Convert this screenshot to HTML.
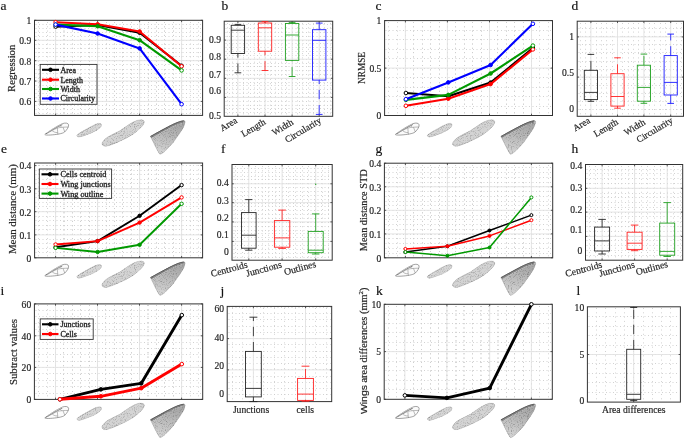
<!DOCTYPE html>
<html><head><meta charset="utf-8"><style>
html,body{margin:0;padding:0;background:#fff;}
svg{display:block;will-change:transform;}
text{font-family:"Liberation Serif", serif;stroke:#262626;stroke-width:0.18px;}
</style></head><body>
<svg width="685" height="439" viewBox="0 0 685 439">
<rect width="685" height="439" fill="#fff"/>

<defs>
<filter id="tex" x="-10%" y="-10%" width="120%" height="120%" color-interpolation-filters="sRGB">
<feTurbulence type="fractalNoise" baseFrequency="0.9" numOctaves="2" seed="4" result="t"/>
<feColorMatrix in="t" type="matrix" values="0.7 0 0 0 0.65  0.7 0 0 0 0.65  0.7 0 0 0 0.65  0 0 0 0 1" result="g"/>
<feBlend in="SourceGraphic" in2="g" mode="multiply" result="m"/>
<feComposite in="m" in2="SourceGraphic" operator="in"/>
</filter>
<g id="w1">
<path d="M44.8,134.5 C49,131.2 56,126.6 62.5,123.6 C65.5,122.6 68.2,123 68.6,124.8 C68.9,126.8 67,129.8 64.6,132 C62.5,133.8 56,134.6 50.5,135 C47.5,135.2 45.2,135.1 44.8,134.5 Z" fill="#fbfbfb" stroke="#5a5a5a" stroke-width="0.55"/>
<path d="M46.5,133.6 C50,131.5 53.5,129.4 57.3,128 C60.5,127.2 64.5,127.1 68.4,127 M57.3,128 L57.9,134.4 M63,127.3 L64.8,131.9 M52,130.5 C53.5,131.8 55,132.6 57.6,132.6 M60,125.5 L61.5,127.2" fill="none" stroke="#6a6a6a" stroke-width="0.45"/>
<path d="M45.3,134.3 C50,131.4 56,127.8 62.5,124.4" fill="none" stroke="#9a9a9a" stroke-width="1.3" filter="url(#tex)"/>
</g>
<g id="w2">
<path d="M76.7,135.2 C78,133.8 81,132 84,130.3 C88,128 92,125.8 95,124.4 C97.5,123.3 100,122.9 101.2,123.8 C102.2,124.8 101.5,126.5 100,127.9 C98,129.8 95,131.4 91.5,132.9 C87,134.8 83,136.2 80,137 C78.3,137.4 76.8,136.8 76.7,135.2 Z" fill="#d6d6d6" stroke="#8a8a8a" stroke-width="0.5" filter="url(#tex)"/>
<path d="M77.5,135 C82,132 88,128.6 95,125" fill="none" stroke="#999" stroke-width="0.9" filter="url(#tex)"/>
</g>
<g id="w3">
<path d="M102,142.9 C103.5,140 106,137.8 109,136.2 C113,134 117,132.2 120,130.6 C125,127.2 129,124 133.5,121.8 C136.5,120.3 139,119.6 141.5,119.7 C143.8,119.9 144.8,121.2 144.3,122.8 C143.6,124.8 142.5,126.2 141,127.6 C137.5,131 134.5,133.4 131.5,135.2 C127,138 123,139.8 119.5,141.4 C115,143.4 111,145.2 107.5,146.1 C105,146.6 103.2,146.2 102.3,145 C101.8,144.2 101.8,143.5 102,142.9 Z" fill="#d4d4d4" stroke="#8a8a8a" stroke-width="0.55" filter="url(#tex)"/>
</g>
<linearGradient id="g4" gradientUnits="userSpaceOnUse" x1="170" y1="125" x2="163" y2="152"><stop offset="0" stop-color="#a9a9a9"/><stop offset="1" stop-color="#d2d2d2"/></linearGradient>
<g id="w4">
<path d="M150.3,136.3 C153.5,134.6 156.8,132.9 160,131.2 C163.4,129.3 166.8,127.4 170.2,125.6 C174,123.6 180,120.8 183.6,120.5 C185,120.4 185.5,121.2 185.1,122.8 C184.6,125.3 183.6,127.4 182.5,129.2 C181.2,131.3 179.8,133.3 178.4,135.3 C176.7,137.7 175,140.1 173.3,142.5 C171.3,144.8 169.3,147 167.2,149.1 C165,151.4 163,153.2 161.5,153.9 C160.6,154.4 159.9,154.4 159.4,153.9 C158.5,152.6 157.7,151.2 156.9,149.7 C155.9,147.6 154.8,145.6 153.8,143.5 C153,141.8 152.2,140.1 151.3,138.4 C150.9,137.6 150.5,137 150.3,136.3 Z" fill="url(#g4)" stroke="#7a7a7a" stroke-width="0.5" filter="url(#tex)"/>
<path d="M150.8,137.2 C157,133.6 164,129.6 170.5,126.4 C175,124.1 180,121.8 183.8,121.5" fill="none" stroke="#8a8a8a" stroke-width="2.4" filter="url(#tex)"/>
<path d="M150.4,136.5 C157,132.9 164,128.9 170.5,125.7 C175,123.4 180,121.1 183.8,120.8" fill="none" stroke="#5a5a5a" stroke-width="0.9"/>
</g>
<g id="wings"><use href="#w1"/><use href="#w2"/><use href="#w3"/><use href="#w4"/></g>
</defs>

<line x1="35.5" y1="24.5" x2="201.6" y2="24.5" stroke="#cdcdcd" stroke-width="0.9" stroke-dasharray="1 2.5"/>
<line x1="35.5" y1="28.5" x2="201.6" y2="28.5" stroke="#cdcdcd" stroke-width="0.9" stroke-dasharray="1 2.5"/>
<line x1="35.5" y1="32.5" x2="201.6" y2="32.5" stroke="#cdcdcd" stroke-width="0.9" stroke-dasharray="1 2.5"/>
<line x1="35.5" y1="36.5" x2="201.6" y2="36.5" stroke="#cdcdcd" stroke-width="0.9" stroke-dasharray="1 2.5"/>
<line x1="35.5" y1="40.5" x2="201.6" y2="40.5" stroke="#cdcdcd" stroke-width="0.9" stroke-dasharray="1 2.5"/>
<line x1="35.5" y1="44.5" x2="201.6" y2="44.5" stroke="#cdcdcd" stroke-width="0.9" stroke-dasharray="1 2.5"/>
<line x1="35.5" y1="48.5" x2="201.6" y2="48.5" stroke="#cdcdcd" stroke-width="0.9" stroke-dasharray="1 2.5"/>
<line x1="35.5" y1="52.5" x2="201.6" y2="52.5" stroke="#cdcdcd" stroke-width="0.9" stroke-dasharray="1 2.5"/>
<line x1="35.5" y1="56.5" x2="201.6" y2="56.5" stroke="#cdcdcd" stroke-width="0.9" stroke-dasharray="1 2.5"/>
<line x1="35.5" y1="60.5" x2="201.6" y2="60.5" stroke="#cdcdcd" stroke-width="0.9" stroke-dasharray="1 2.5"/>
<line x1="35.5" y1="64.5" x2="201.6" y2="64.5" stroke="#cdcdcd" stroke-width="0.9" stroke-dasharray="1 2.5"/>
<line x1="35.5" y1="69.5" x2="201.6" y2="69.5" stroke="#cdcdcd" stroke-width="0.9" stroke-dasharray="1 2.5"/>
<line x1="35.5" y1="73.5" x2="201.6" y2="73.5" stroke="#cdcdcd" stroke-width="0.9" stroke-dasharray="1 2.5"/>
<line x1="35.5" y1="77.5" x2="201.6" y2="77.5" stroke="#cdcdcd" stroke-width="0.9" stroke-dasharray="1 2.5"/>
<line x1="35.5" y1="81.5" x2="201.6" y2="81.5" stroke="#cdcdcd" stroke-width="0.9" stroke-dasharray="1 2.5"/>
<line x1="35.5" y1="85.5" x2="201.6" y2="85.5" stroke="#cdcdcd" stroke-width="0.9" stroke-dasharray="1 2.5"/>
<line x1="35.5" y1="89.5" x2="201.6" y2="89.5" stroke="#cdcdcd" stroke-width="0.9" stroke-dasharray="1 2.5"/>
<line x1="35.5" y1="93.5" x2="201.6" y2="93.5" stroke="#cdcdcd" stroke-width="0.9" stroke-dasharray="1 2.5"/>
<line x1="35.5" y1="97.5" x2="201.6" y2="97.5" stroke="#cdcdcd" stroke-width="0.9" stroke-dasharray="1 2.5"/>
<line x1="35.5" y1="101.5" x2="201.6" y2="101.5" stroke="#cdcdcd" stroke-width="0.9" stroke-dasharray="1 2.5"/>
<line x1="35.5" y1="105.5" x2="201.6" y2="105.5" stroke="#cdcdcd" stroke-width="0.9" stroke-dasharray="1 2.5"/>
<line x1="35.5" y1="109.5" x2="201.6" y2="109.5" stroke="#cdcdcd" stroke-width="0.9" stroke-dasharray="1 2.5"/>
<line x1="35.5" y1="113.5" x2="201.6" y2="113.5" stroke="#cdcdcd" stroke-width="0.9" stroke-dasharray="1 2.5"/>
<line x1="38.5" y1="22" x2="38.5" y2="114.4" stroke="#cdcdcd" stroke-width="0.9" stroke-dasharray="1 3.3"/>
<line x1="47.5" y1="22" x2="47.5" y2="114.4" stroke="#cdcdcd" stroke-width="0.9" stroke-dasharray="1 3.3"/>
<line x1="55.5" y1="22" x2="55.5" y2="114.4" stroke="#cdcdcd" stroke-width="0.9" stroke-dasharray="1 3.3"/>
<line x1="64.5" y1="22" x2="64.5" y2="114.4" stroke="#cdcdcd" stroke-width="0.9" stroke-dasharray="1 3.3"/>
<line x1="72.5" y1="22" x2="72.5" y2="114.4" stroke="#cdcdcd" stroke-width="0.9" stroke-dasharray="1 3.3"/>
<line x1="80.5" y1="22" x2="80.5" y2="114.4" stroke="#cdcdcd" stroke-width="0.9" stroke-dasharray="1 3.3"/>
<line x1="89.5" y1="22" x2="89.5" y2="114.4" stroke="#cdcdcd" stroke-width="0.9" stroke-dasharray="1 3.3"/>
<line x1="97.5" y1="22" x2="97.5" y2="114.4" stroke="#cdcdcd" stroke-width="0.9" stroke-dasharray="1 3.3"/>
<line x1="55.5" y1="22" x2="55.5" y2="114.4" stroke="#cdcdcd" stroke-width="0.9" stroke-dasharray="1 3.3"/>
<line x1="63.5" y1="22" x2="63.5" y2="114.4" stroke="#cdcdcd" stroke-width="0.9" stroke-dasharray="1 3.3"/>
<line x1="72.5" y1="22" x2="72.5" y2="114.4" stroke="#cdcdcd" stroke-width="0.9" stroke-dasharray="1 3.3"/>
<line x1="80.5" y1="22" x2="80.5" y2="114.4" stroke="#cdcdcd" stroke-width="0.9" stroke-dasharray="1 3.3"/>
<line x1="89.5" y1="22" x2="89.5" y2="114.4" stroke="#cdcdcd" stroke-width="0.9" stroke-dasharray="1 3.3"/>
<line x1="97.5" y1="22" x2="97.5" y2="114.4" stroke="#cdcdcd" stroke-width="0.9" stroke-dasharray="1 3.3"/>
<line x1="106.5" y1="22" x2="106.5" y2="114.4" stroke="#cdcdcd" stroke-width="0.9" stroke-dasharray="1 3.3"/>
<line x1="114.5" y1="22" x2="114.5" y2="114.4" stroke="#cdcdcd" stroke-width="0.9" stroke-dasharray="1 3.3"/>
<line x1="122.5" y1="22" x2="122.5" y2="114.4" stroke="#cdcdcd" stroke-width="0.9" stroke-dasharray="1 3.3"/>
<line x1="131.5" y1="22" x2="131.5" y2="114.4" stroke="#cdcdcd" stroke-width="0.9" stroke-dasharray="1 3.3"/>
<line x1="139.5" y1="22" x2="139.5" y2="114.4" stroke="#cdcdcd" stroke-width="0.9" stroke-dasharray="1 3.3"/>
<line x1="97.5" y1="22" x2="97.5" y2="114.4" stroke="#cdcdcd" stroke-width="0.9" stroke-dasharray="1 3.3"/>
<line x1="106.5" y1="22" x2="106.5" y2="114.4" stroke="#cdcdcd" stroke-width="0.9" stroke-dasharray="1 3.3"/>
<line x1="114.5" y1="22" x2="114.5" y2="114.4" stroke="#cdcdcd" stroke-width="0.9" stroke-dasharray="1 3.3"/>
<line x1="122.5" y1="22" x2="122.5" y2="114.4" stroke="#cdcdcd" stroke-width="0.9" stroke-dasharray="1 3.3"/>
<line x1="131.5" y1="22" x2="131.5" y2="114.4" stroke="#cdcdcd" stroke-width="0.9" stroke-dasharray="1 3.3"/>
<line x1="139.5" y1="22" x2="139.5" y2="114.4" stroke="#cdcdcd" stroke-width="0.9" stroke-dasharray="1 3.3"/>
<line x1="148.5" y1="22" x2="148.5" y2="114.4" stroke="#cdcdcd" stroke-width="0.9" stroke-dasharray="1 3.3"/>
<line x1="156.5" y1="22" x2="156.5" y2="114.4" stroke="#cdcdcd" stroke-width="0.9" stroke-dasharray="1 3.3"/>
<line x1="164.5" y1="22" x2="164.5" y2="114.4" stroke="#cdcdcd" stroke-width="0.9" stroke-dasharray="1 3.3"/>
<line x1="173.5" y1="22" x2="173.5" y2="114.4" stroke="#cdcdcd" stroke-width="0.9" stroke-dasharray="1 3.3"/>
<line x1="181.5" y1="22" x2="181.5" y2="114.4" stroke="#cdcdcd" stroke-width="0.9" stroke-dasharray="1 3.3"/>
<line x1="139.5" y1="22" x2="139.5" y2="114.4" stroke="#cdcdcd" stroke-width="0.9" stroke-dasharray="1 3.3"/>
<line x1="148.5" y1="22" x2="148.5" y2="114.4" stroke="#cdcdcd" stroke-width="0.9" stroke-dasharray="1 3.3"/>
<line x1="156.5" y1="22" x2="156.5" y2="114.4" stroke="#cdcdcd" stroke-width="0.9" stroke-dasharray="1 3.3"/>
<line x1="164.5" y1="22" x2="164.5" y2="114.4" stroke="#cdcdcd" stroke-width="0.9" stroke-dasharray="1 3.3"/>
<line x1="173.5" y1="22" x2="173.5" y2="114.4" stroke="#cdcdcd" stroke-width="0.9" stroke-dasharray="1 3.3"/>
<line x1="181.5" y1="22" x2="181.5" y2="114.4" stroke="#cdcdcd" stroke-width="0.9" stroke-dasharray="1 3.3"/>
<line x1="190.5" y1="22" x2="190.5" y2="114.4" stroke="#cdcdcd" stroke-width="0.9" stroke-dasharray="1 3.3"/>
<line x1="198.5" y1="22" x2="198.5" y2="114.4" stroke="#cdcdcd" stroke-width="0.9" stroke-dasharray="1 3.3"/>
<line x1="34.5" y1="40.3" x2="202.6" y2="40.3" stroke="#e2e2e2" stroke-width="0.9" />
<line x1="34.5" y1="60.7" x2="202.6" y2="60.7" stroke="#e2e2e2" stroke-width="0.9" />
<line x1="34.5" y1="81" x2="202.6" y2="81" stroke="#e2e2e2" stroke-width="0.9" />
<line x1="34.5" y1="101.4" x2="202.6" y2="101.4" stroke="#e2e2e2" stroke-width="0.9" />
<line x1="55.6" y1="20.3" x2="55.6" y2="115.4" stroke="#e2e2e2" stroke-width="0.9" />
<line x1="97.6" y1="20.3" x2="97.6" y2="115.4" stroke="#e2e2e2" stroke-width="0.9" />
<line x1="139.6" y1="20.3" x2="139.6" y2="115.4" stroke="#e2e2e2" stroke-width="0.9" />
<line x1="181.6" y1="20.3" x2="181.6" y2="115.4" stroke="#e2e2e2" stroke-width="0.9" />
<line x1="34.5" y1="20.3" x2="36.3" y2="20.3" stroke="#333333" stroke-width="0.8" />
<line x1="202.6" y1="20.3" x2="200.8" y2="20.3" stroke="#333333" stroke-width="0.8" />
<line x1="34.5" y1="40.3" x2="36.3" y2="40.3" stroke="#333333" stroke-width="0.8" />
<line x1="202.6" y1="40.3" x2="200.8" y2="40.3" stroke="#333333" stroke-width="0.8" />
<line x1="34.5" y1="60.7" x2="36.3" y2="60.7" stroke="#333333" stroke-width="0.8" />
<line x1="202.6" y1="60.7" x2="200.8" y2="60.7" stroke="#333333" stroke-width="0.8" />
<line x1="34.5" y1="81" x2="36.3" y2="81" stroke="#333333" stroke-width="0.8" />
<line x1="202.6" y1="81" x2="200.8" y2="81" stroke="#333333" stroke-width="0.8" />
<line x1="34.5" y1="101.4" x2="36.3" y2="101.4" stroke="#333333" stroke-width="0.8" />
<line x1="202.6" y1="101.4" x2="200.8" y2="101.4" stroke="#333333" stroke-width="0.8" />
<line x1="55.6" y1="115.4" x2="55.6" y2="113.6" stroke="#333333" stroke-width="0.8" />
<line x1="55.6" y1="20.3" x2="55.6" y2="22.1" stroke="#333333" stroke-width="0.8" />
<line x1="97.6" y1="115.4" x2="97.6" y2="113.6" stroke="#333333" stroke-width="0.8" />
<line x1="97.6" y1="20.3" x2="97.6" y2="22.1" stroke="#333333" stroke-width="0.8" />
<line x1="139.6" y1="115.4" x2="139.6" y2="113.6" stroke="#333333" stroke-width="0.8" />
<line x1="139.6" y1="20.3" x2="139.6" y2="22.1" stroke="#333333" stroke-width="0.8" />
<line x1="181.6" y1="115.4" x2="181.6" y2="113.6" stroke="#333333" stroke-width="0.8" />
<line x1="181.6" y1="20.3" x2="181.6" y2="22.1" stroke="#333333" stroke-width="0.8" />
<rect x="34.5" y="20.3" width="168.1" height="95.1" fill="none" stroke="#333333" stroke-width="1"/>
<text x="31.3" y="24.1" font-size="9.6" text-anchor="end" fill="#262626" font-weight="normal" >1</text>
<text x="31.3" y="44.1" font-size="9.6" text-anchor="end" fill="#262626" font-weight="normal" >0.9</text>
<text x="31.3" y="64.5" font-size="9.6" text-anchor="end" fill="#262626" font-weight="normal" >0.8</text>
<text x="31.3" y="84.8" font-size="9.6" text-anchor="end" fill="#262626" font-weight="normal" >0.7</text>
<text x="31.3" y="105.2" font-size="9.6" text-anchor="end" fill="#262626" font-weight="normal" >0.6</text>
<polyline points="55.6,26.6 97.6,25 139.6,32.7 181.6,65.8" fill="none" stroke="#000000" stroke-width="2.1" stroke-linejoin="round"/>
<circle cx="55.6" cy="26.6" r="1.8" fill="white" stroke="#000000" stroke-width="1"/>
<circle cx="97.6" cy="25" r="1.8" fill="#000000" stroke="#000000" stroke-width="1"/>
<circle cx="139.6" cy="32.7" r="1.8" fill="#000000" stroke="#000000" stroke-width="1"/>
<circle cx="181.6" cy="65.8" r="1.8" fill="white" stroke="#000000" stroke-width="1"/>
<polyline points="55.6,22.2 97.6,24.3 139.6,31.5 181.6,66.3" fill="none" stroke="#ff0000" stroke-width="2.1" stroke-linejoin="round"/>
<circle cx="55.6" cy="22.2" r="1.8" fill="white" stroke="#ff0000" stroke-width="1"/>
<circle cx="97.6" cy="24.3" r="1.8" fill="#ff0000" stroke="#ff0000" stroke-width="1"/>
<circle cx="139.6" cy="31.5" r="1.8" fill="#ff0000" stroke="#ff0000" stroke-width="1"/>
<circle cx="181.6" cy="66.3" r="1.8" fill="white" stroke="#ff0000" stroke-width="1"/>
<polyline points="55.6,24.6 97.6,26.2 139.6,40.2 181.6,70.4" fill="none" stroke="#009900" stroke-width="2.1" stroke-linejoin="round"/>
<circle cx="55.6" cy="24.6" r="1.8" fill="white" stroke="#009900" stroke-width="1"/>
<circle cx="97.6" cy="26.2" r="1.8" fill="#009900" stroke="#009900" stroke-width="1"/>
<circle cx="139.6" cy="40.2" r="1.8" fill="#009900" stroke="#009900" stroke-width="1"/>
<circle cx="181.6" cy="70.4" r="1.8" fill="white" stroke="#009900" stroke-width="1"/>
<polyline points="55.6,24.6 97.6,33.5 139.6,48.4 181.6,104.2" fill="none" stroke="#0000ff" stroke-width="2.1" stroke-linejoin="round"/>
<circle cx="55.6" cy="24.6" r="1.8" fill="white" stroke="#0000ff" stroke-width="1"/>
<circle cx="97.6" cy="33.5" r="1.8" fill="#0000ff" stroke="#0000ff" stroke-width="1"/>
<circle cx="139.6" cy="48.4" r="1.8" fill="#0000ff" stroke="#0000ff" stroke-width="1"/>
<circle cx="181.6" cy="104.2" r="1.8" fill="white" stroke="#0000ff" stroke-width="1"/>
<rect x="40.2" y="64.4" width="56.8" height="39.9" fill="none" stroke="#333333" stroke-width="0.9"/>
<line x1="42" y1="69.8" x2="59" y2="69.8" stroke="#000000" stroke-width="2.1" />
<circle cx="50.5" cy="69.8" r="1.8" fill="#000000" stroke="#000000" stroke-width="1"/>
<text x="60.4" y="72.7" font-size="8" text-anchor="start" fill="#1a1a1a" font-weight="normal" style="stroke-width:0.32px">Area</text>
<line x1="42" y1="79.7" x2="59" y2="79.7" stroke="#ff0000" stroke-width="2.1" />
<circle cx="50.5" cy="79.7" r="1.8" fill="#ff0000" stroke="#ff0000" stroke-width="1"/>
<text x="60.4" y="82.6" font-size="8" text-anchor="start" fill="#1a1a1a" font-weight="normal" style="stroke-width:0.32px">Length</text>
<line x1="42" y1="89" x2="59" y2="89" stroke="#009900" stroke-width="2.1" />
<circle cx="50.5" cy="89" r="1.8" fill="#009900" stroke="#009900" stroke-width="1"/>
<text x="60.4" y="91.9" font-size="8" text-anchor="start" fill="#1a1a1a" font-weight="normal" style="stroke-width:0.32px">Width</text>
<line x1="42" y1="98.5" x2="59" y2="98.5" stroke="#0000ff" stroke-width="2.1" />
<circle cx="50.5" cy="98.5" r="1.8" fill="#0000ff" stroke="#0000ff" stroke-width="1"/>
<text x="60.4" y="101.4" font-size="8" text-anchor="start" fill="#1a1a1a" font-weight="normal" style="stroke-width:0.32px">Circularity</text>
<text x="0" y="0" font-size="9.6" text-anchor="middle" fill="#262626" textLength="47.1" lengthAdjust="spacingAndGlyphs" transform="translate(14.6,68.35) rotate(-90)">Regression</text>
<text x="0.6" y="9.8" font-size="13.5" text-anchor="start" fill="#111" font-weight="normal" >a</text>
<use href="#wings" transform="translate(0,0)"/>
<line x1="385.5" y1="30.5" x2="551.5" y2="30.5" stroke="#cdcdcd" stroke-width="0.9" stroke-dasharray="1 2.5"/>
<line x1="385.5" y1="39.5" x2="551.5" y2="39.5" stroke="#cdcdcd" stroke-width="0.9" stroke-dasharray="1 2.5"/>
<line x1="385.5" y1="49.5" x2="551.5" y2="49.5" stroke="#cdcdcd" stroke-width="0.9" stroke-dasharray="1 2.5"/>
<line x1="385.5" y1="58.5" x2="551.5" y2="58.5" stroke="#cdcdcd" stroke-width="0.9" stroke-dasharray="1 2.5"/>
<line x1="385.5" y1="68.5" x2="551.5" y2="68.5" stroke="#cdcdcd" stroke-width="0.9" stroke-dasharray="1 2.5"/>
<line x1="385.5" y1="77.5" x2="551.5" y2="77.5" stroke="#cdcdcd" stroke-width="0.9" stroke-dasharray="1 2.5"/>
<line x1="385.5" y1="87.5" x2="551.5" y2="87.5" stroke="#cdcdcd" stroke-width="0.9" stroke-dasharray="1 2.5"/>
<line x1="385.5" y1="96.5" x2="551.5" y2="96.5" stroke="#cdcdcd" stroke-width="0.9" stroke-dasharray="1 2.5"/>
<line x1="385.5" y1="106.5" x2="551.5" y2="106.5" stroke="#cdcdcd" stroke-width="0.9" stroke-dasharray="1 2.5"/>
<line x1="388.5" y1="22" x2="388.5" y2="114.5" stroke="#cdcdcd" stroke-width="0.9" stroke-dasharray="1 3.3"/>
<line x1="397.5" y1="22" x2="397.5" y2="114.5" stroke="#cdcdcd" stroke-width="0.9" stroke-dasharray="1 3.3"/>
<line x1="405.5" y1="22" x2="405.5" y2="114.5" stroke="#cdcdcd" stroke-width="0.9" stroke-dasharray="1 3.3"/>
<line x1="413.5" y1="22" x2="413.5" y2="114.5" stroke="#cdcdcd" stroke-width="0.9" stroke-dasharray="1 3.3"/>
<line x1="422.5" y1="22" x2="422.5" y2="114.5" stroke="#cdcdcd" stroke-width="0.9" stroke-dasharray="1 3.3"/>
<line x1="430.5" y1="22" x2="430.5" y2="114.5" stroke="#cdcdcd" stroke-width="0.9" stroke-dasharray="1 3.3"/>
<line x1="439.5" y1="22" x2="439.5" y2="114.5" stroke="#cdcdcd" stroke-width="0.9" stroke-dasharray="1 3.3"/>
<line x1="447.5" y1="22" x2="447.5" y2="114.5" stroke="#cdcdcd" stroke-width="0.9" stroke-dasharray="1 3.3"/>
<line x1="405.5" y1="22" x2="405.5" y2="114.5" stroke="#cdcdcd" stroke-width="0.9" stroke-dasharray="1 3.3"/>
<line x1="413.5" y1="22" x2="413.5" y2="114.5" stroke="#cdcdcd" stroke-width="0.9" stroke-dasharray="1 3.3"/>
<line x1="422.5" y1="22" x2="422.5" y2="114.5" stroke="#cdcdcd" stroke-width="0.9" stroke-dasharray="1 3.3"/>
<line x1="430.5" y1="22" x2="430.5" y2="114.5" stroke="#cdcdcd" stroke-width="0.9" stroke-dasharray="1 3.3"/>
<line x1="439.5" y1="22" x2="439.5" y2="114.5" stroke="#cdcdcd" stroke-width="0.9" stroke-dasharray="1 3.3"/>
<line x1="447.5" y1="22" x2="447.5" y2="114.5" stroke="#cdcdcd" stroke-width="0.9" stroke-dasharray="1 3.3"/>
<line x1="455.5" y1="22" x2="455.5" y2="114.5" stroke="#cdcdcd" stroke-width="0.9" stroke-dasharray="1 3.3"/>
<line x1="464.5" y1="22" x2="464.5" y2="114.5" stroke="#cdcdcd" stroke-width="0.9" stroke-dasharray="1 3.3"/>
<line x1="472.5" y1="22" x2="472.5" y2="114.5" stroke="#cdcdcd" stroke-width="0.9" stroke-dasharray="1 3.3"/>
<line x1="481.5" y1="22" x2="481.5" y2="114.5" stroke="#cdcdcd" stroke-width="0.9" stroke-dasharray="1 3.3"/>
<line x1="489.5" y1="22" x2="489.5" y2="114.5" stroke="#cdcdcd" stroke-width="0.9" stroke-dasharray="1 3.3"/>
<line x1="447.5" y1="22" x2="447.5" y2="114.5" stroke="#cdcdcd" stroke-width="0.9" stroke-dasharray="1 3.3"/>
<line x1="455.5" y1="22" x2="455.5" y2="114.5" stroke="#cdcdcd" stroke-width="0.9" stroke-dasharray="1 3.3"/>
<line x1="464.5" y1="22" x2="464.5" y2="114.5" stroke="#cdcdcd" stroke-width="0.9" stroke-dasharray="1 3.3"/>
<line x1="472.5" y1="22" x2="472.5" y2="114.5" stroke="#cdcdcd" stroke-width="0.9" stroke-dasharray="1 3.3"/>
<line x1="481.5" y1="22" x2="481.5" y2="114.5" stroke="#cdcdcd" stroke-width="0.9" stroke-dasharray="1 3.3"/>
<line x1="489.5" y1="22" x2="489.5" y2="114.5" stroke="#cdcdcd" stroke-width="0.9" stroke-dasharray="1 3.3"/>
<line x1="497.5" y1="22" x2="497.5" y2="114.5" stroke="#cdcdcd" stroke-width="0.9" stroke-dasharray="1 3.3"/>
<line x1="506.5" y1="22" x2="506.5" y2="114.5" stroke="#cdcdcd" stroke-width="0.9" stroke-dasharray="1 3.3"/>
<line x1="514.5" y1="22" x2="514.5" y2="114.5" stroke="#cdcdcd" stroke-width="0.9" stroke-dasharray="1 3.3"/>
<line x1="523.5" y1="22" x2="523.5" y2="114.5" stroke="#cdcdcd" stroke-width="0.9" stroke-dasharray="1 3.3"/>
<line x1="531.5" y1="22" x2="531.5" y2="114.5" stroke="#cdcdcd" stroke-width="0.9" stroke-dasharray="1 3.3"/>
<line x1="489.5" y1="22" x2="489.5" y2="114.5" stroke="#cdcdcd" stroke-width="0.9" stroke-dasharray="1 3.3"/>
<line x1="497.5" y1="22" x2="497.5" y2="114.5" stroke="#cdcdcd" stroke-width="0.9" stroke-dasharray="1 3.3"/>
<line x1="506.5" y1="22" x2="506.5" y2="114.5" stroke="#cdcdcd" stroke-width="0.9" stroke-dasharray="1 3.3"/>
<line x1="514.5" y1="22" x2="514.5" y2="114.5" stroke="#cdcdcd" stroke-width="0.9" stroke-dasharray="1 3.3"/>
<line x1="523.5" y1="22" x2="523.5" y2="114.5" stroke="#cdcdcd" stroke-width="0.9" stroke-dasharray="1 3.3"/>
<line x1="531.5" y1="22" x2="531.5" y2="114.5" stroke="#cdcdcd" stroke-width="0.9" stroke-dasharray="1 3.3"/>
<line x1="539.5" y1="22" x2="539.5" y2="114.5" stroke="#cdcdcd" stroke-width="0.9" stroke-dasharray="1 3.3"/>
<line x1="548.5" y1="22" x2="548.5" y2="114.5" stroke="#cdcdcd" stroke-width="0.9" stroke-dasharray="1 3.3"/>
<line x1="384.6" y1="68.1" x2="552.5" y2="68.1" stroke="#e2e2e2" stroke-width="0.9" />
<line x1="405.4" y1="20.6" x2="405.4" y2="115.5" stroke="#e2e2e2" stroke-width="0.9" />
<line x1="447.4" y1="20.6" x2="447.4" y2="115.5" stroke="#e2e2e2" stroke-width="0.9" />
<line x1="489.5" y1="20.6" x2="489.5" y2="115.5" stroke="#e2e2e2" stroke-width="0.9" />
<line x1="531.5" y1="20.6" x2="531.5" y2="115.5" stroke="#e2e2e2" stroke-width="0.9" />
<line x1="384.6" y1="20.6" x2="386.4" y2="20.6" stroke="#333333" stroke-width="0.8" />
<line x1="552.5" y1="20.6" x2="550.7" y2="20.6" stroke="#333333" stroke-width="0.8" />
<line x1="384.6" y1="68.1" x2="386.4" y2="68.1" stroke="#333333" stroke-width="0.8" />
<line x1="552.5" y1="68.1" x2="550.7" y2="68.1" stroke="#333333" stroke-width="0.8" />
<line x1="384.6" y1="115.5" x2="386.4" y2="115.5" stroke="#333333" stroke-width="0.8" />
<line x1="552.5" y1="115.5" x2="550.7" y2="115.5" stroke="#333333" stroke-width="0.8" />
<line x1="405.4" y1="115.5" x2="405.4" y2="113.7" stroke="#333333" stroke-width="0.8" />
<line x1="405.4" y1="20.6" x2="405.4" y2="22.4" stroke="#333333" stroke-width="0.8" />
<line x1="447.4" y1="115.5" x2="447.4" y2="113.7" stroke="#333333" stroke-width="0.8" />
<line x1="447.4" y1="20.6" x2="447.4" y2="22.4" stroke="#333333" stroke-width="0.8" />
<line x1="489.5" y1="115.5" x2="489.5" y2="113.7" stroke="#333333" stroke-width="0.8" />
<line x1="489.5" y1="20.6" x2="489.5" y2="22.4" stroke="#333333" stroke-width="0.8" />
<line x1="531.5" y1="115.5" x2="531.5" y2="113.7" stroke="#333333" stroke-width="0.8" />
<line x1="531.5" y1="20.6" x2="531.5" y2="22.4" stroke="#333333" stroke-width="0.8" />
<rect x="384.6" y="20.6" width="167.9" height="94.9" fill="none" stroke="#333333" stroke-width="1"/>
<text x="381.4" y="24.4" font-size="9.6" text-anchor="end" fill="#262626" font-weight="normal" >1</text>
<text x="381.4" y="71.9" font-size="9.6" text-anchor="end" fill="#262626" font-weight="normal" >0.5</text>
<text x="381.4" y="119.3" font-size="9.6" text-anchor="end" fill="#262626" font-weight="normal" >0</text>
<polyline points="405.9,93 448.3,96.3 490.6,82.6 532.9,48.1" fill="none" stroke="#000000" stroke-width="2.1" stroke-linejoin="round"/>
<circle cx="405.9" cy="93" r="1.8" fill="white" stroke="#000000" stroke-width="1"/>
<circle cx="448.3" cy="96.3" r="1.8" fill="#000000" stroke="#000000" stroke-width="1"/>
<circle cx="490.6" cy="82.6" r="1.8" fill="#000000" stroke="#000000" stroke-width="1"/>
<circle cx="532.9" cy="48.1" r="1.8" fill="white" stroke="#000000" stroke-width="1"/>
<polyline points="405.9,105.8 448.3,98.7 490.6,84.1 532.9,49.4" fill="none" stroke="#ff0000" stroke-width="2.1" stroke-linejoin="round"/>
<circle cx="405.9" cy="105.8" r="1.8" fill="white" stroke="#ff0000" stroke-width="1"/>
<circle cx="448.3" cy="98.7" r="1.8" fill="#ff0000" stroke="#ff0000" stroke-width="1"/>
<circle cx="490.6" cy="84.1" r="1.8" fill="#ff0000" stroke="#ff0000" stroke-width="1"/>
<circle cx="532.9" cy="49.4" r="1.8" fill="white" stroke="#ff0000" stroke-width="1"/>
<polyline points="405.9,99.9 448.3,94.9 490.6,73.5 532.9,45.6" fill="none" stroke="#009900" stroke-width="2.1" stroke-linejoin="round"/>
<circle cx="405.9" cy="99.9" r="1.8" fill="white" stroke="#009900" stroke-width="1"/>
<circle cx="448.3" cy="94.9" r="1.8" fill="#009900" stroke="#009900" stroke-width="1"/>
<circle cx="490.6" cy="73.5" r="1.8" fill="#009900" stroke="#009900" stroke-width="1"/>
<circle cx="532.9" cy="45.6" r="1.8" fill="white" stroke="#009900" stroke-width="1"/>
<polyline points="405.9,99.2 448.3,82.4 490.6,65 532.9,23.8" fill="none" stroke="#0000ff" stroke-width="2.1" stroke-linejoin="round"/>
<circle cx="405.9" cy="99.2" r="1.8" fill="white" stroke="#0000ff" stroke-width="1"/>
<circle cx="448.3" cy="82.4" r="1.8" fill="#0000ff" stroke="#0000ff" stroke-width="1"/>
<circle cx="490.6" cy="65" r="1.8" fill="#0000ff" stroke="#0000ff" stroke-width="1"/>
<circle cx="532.9" cy="23.8" r="1.8" fill="white" stroke="#0000ff" stroke-width="1"/>
<text x="0" y="0" font-size="9.6" text-anchor="middle" fill="#262626" textLength="32" lengthAdjust="spacingAndGlyphs" transform="translate(364.6,68) rotate(-90)">NRMSE</text>
<text x="375.5" y="9.8" font-size="13.5" text-anchor="start" fill="#111" font-weight="normal" >c</text>
<use href="#wings" transform="translate(350.5,0)"/>
<line x1="35.5" y1="165.5" x2="201.6" y2="165.5" stroke="#cdcdcd" stroke-width="0.9" stroke-dasharray="1 2.5"/>
<line x1="35.5" y1="170.5" x2="201.6" y2="170.5" stroke="#cdcdcd" stroke-width="0.9" stroke-dasharray="1 2.5"/>
<line x1="35.5" y1="174.5" x2="201.6" y2="174.5" stroke="#cdcdcd" stroke-width="0.9" stroke-dasharray="1 2.5"/>
<line x1="35.5" y1="179.5" x2="201.6" y2="179.5" stroke="#cdcdcd" stroke-width="0.9" stroke-dasharray="1 2.5"/>
<line x1="35.5" y1="183.5" x2="201.6" y2="183.5" stroke="#cdcdcd" stroke-width="0.9" stroke-dasharray="1 2.5"/>
<line x1="35.5" y1="188.5" x2="201.6" y2="188.5" stroke="#cdcdcd" stroke-width="0.9" stroke-dasharray="1 2.5"/>
<line x1="35.5" y1="193.5" x2="201.6" y2="193.5" stroke="#cdcdcd" stroke-width="0.9" stroke-dasharray="1 2.5"/>
<line x1="35.5" y1="197.5" x2="201.6" y2="197.5" stroke="#cdcdcd" stroke-width="0.9" stroke-dasharray="1 2.5"/>
<line x1="35.5" y1="202.5" x2="201.6" y2="202.5" stroke="#cdcdcd" stroke-width="0.9" stroke-dasharray="1 2.5"/>
<line x1="35.5" y1="206.5" x2="201.6" y2="206.5" stroke="#cdcdcd" stroke-width="0.9" stroke-dasharray="1 2.5"/>
<line x1="35.5" y1="211.5" x2="201.6" y2="211.5" stroke="#cdcdcd" stroke-width="0.9" stroke-dasharray="1 2.5"/>
<line x1="35.5" y1="216.5" x2="201.6" y2="216.5" stroke="#cdcdcd" stroke-width="0.9" stroke-dasharray="1 2.5"/>
<line x1="35.5" y1="220.5" x2="201.6" y2="220.5" stroke="#cdcdcd" stroke-width="0.9" stroke-dasharray="1 2.5"/>
<line x1="35.5" y1="225.5" x2="201.6" y2="225.5" stroke="#cdcdcd" stroke-width="0.9" stroke-dasharray="1 2.5"/>
<line x1="35.5" y1="229.5" x2="201.6" y2="229.5" stroke="#cdcdcd" stroke-width="0.9" stroke-dasharray="1 2.5"/>
<line x1="35.5" y1="234.5" x2="201.6" y2="234.5" stroke="#cdcdcd" stroke-width="0.9" stroke-dasharray="1 2.5"/>
<line x1="35.5" y1="239.5" x2="201.6" y2="239.5" stroke="#cdcdcd" stroke-width="0.9" stroke-dasharray="1 2.5"/>
<line x1="35.5" y1="243.5" x2="201.6" y2="243.5" stroke="#cdcdcd" stroke-width="0.9" stroke-dasharray="1 2.5"/>
<line x1="35.5" y1="248.5" x2="201.6" y2="248.5" stroke="#cdcdcd" stroke-width="0.9" stroke-dasharray="1 2.5"/>
<line x1="35.5" y1="252.5" x2="201.6" y2="252.5" stroke="#cdcdcd" stroke-width="0.9" stroke-dasharray="1 2.5"/>
<line x1="38.5" y1="165" x2="38.5" y2="256.8" stroke="#cdcdcd" stroke-width="0.9" stroke-dasharray="1 3.3"/>
<line x1="47.5" y1="165" x2="47.5" y2="256.8" stroke="#cdcdcd" stroke-width="0.9" stroke-dasharray="1 3.3"/>
<line x1="55.5" y1="165" x2="55.5" y2="256.8" stroke="#cdcdcd" stroke-width="0.9" stroke-dasharray="1 3.3"/>
<line x1="64.5" y1="165" x2="64.5" y2="256.8" stroke="#cdcdcd" stroke-width="0.9" stroke-dasharray="1 3.3"/>
<line x1="72.5" y1="165" x2="72.5" y2="256.8" stroke="#cdcdcd" stroke-width="0.9" stroke-dasharray="1 3.3"/>
<line x1="80.5" y1="165" x2="80.5" y2="256.8" stroke="#cdcdcd" stroke-width="0.9" stroke-dasharray="1 3.3"/>
<line x1="89.5" y1="165" x2="89.5" y2="256.8" stroke="#cdcdcd" stroke-width="0.9" stroke-dasharray="1 3.3"/>
<line x1="97.5" y1="165" x2="97.5" y2="256.8" stroke="#cdcdcd" stroke-width="0.9" stroke-dasharray="1 3.3"/>
<line x1="55.5" y1="165" x2="55.5" y2="256.8" stroke="#cdcdcd" stroke-width="0.9" stroke-dasharray="1 3.3"/>
<line x1="63.5" y1="165" x2="63.5" y2="256.8" stroke="#cdcdcd" stroke-width="0.9" stroke-dasharray="1 3.3"/>
<line x1="72.5" y1="165" x2="72.5" y2="256.8" stroke="#cdcdcd" stroke-width="0.9" stroke-dasharray="1 3.3"/>
<line x1="80.5" y1="165" x2="80.5" y2="256.8" stroke="#cdcdcd" stroke-width="0.9" stroke-dasharray="1 3.3"/>
<line x1="89.5" y1="165" x2="89.5" y2="256.8" stroke="#cdcdcd" stroke-width="0.9" stroke-dasharray="1 3.3"/>
<line x1="97.5" y1="165" x2="97.5" y2="256.8" stroke="#cdcdcd" stroke-width="0.9" stroke-dasharray="1 3.3"/>
<line x1="106.5" y1="165" x2="106.5" y2="256.8" stroke="#cdcdcd" stroke-width="0.9" stroke-dasharray="1 3.3"/>
<line x1="114.5" y1="165" x2="114.5" y2="256.8" stroke="#cdcdcd" stroke-width="0.9" stroke-dasharray="1 3.3"/>
<line x1="122.5" y1="165" x2="122.5" y2="256.8" stroke="#cdcdcd" stroke-width="0.9" stroke-dasharray="1 3.3"/>
<line x1="131.5" y1="165" x2="131.5" y2="256.8" stroke="#cdcdcd" stroke-width="0.9" stroke-dasharray="1 3.3"/>
<line x1="139.5" y1="165" x2="139.5" y2="256.8" stroke="#cdcdcd" stroke-width="0.9" stroke-dasharray="1 3.3"/>
<line x1="97.5" y1="165" x2="97.5" y2="256.8" stroke="#cdcdcd" stroke-width="0.9" stroke-dasharray="1 3.3"/>
<line x1="106.5" y1="165" x2="106.5" y2="256.8" stroke="#cdcdcd" stroke-width="0.9" stroke-dasharray="1 3.3"/>
<line x1="114.5" y1="165" x2="114.5" y2="256.8" stroke="#cdcdcd" stroke-width="0.9" stroke-dasharray="1 3.3"/>
<line x1="122.5" y1="165" x2="122.5" y2="256.8" stroke="#cdcdcd" stroke-width="0.9" stroke-dasharray="1 3.3"/>
<line x1="131.5" y1="165" x2="131.5" y2="256.8" stroke="#cdcdcd" stroke-width="0.9" stroke-dasharray="1 3.3"/>
<line x1="139.5" y1="165" x2="139.5" y2="256.8" stroke="#cdcdcd" stroke-width="0.9" stroke-dasharray="1 3.3"/>
<line x1="148.5" y1="165" x2="148.5" y2="256.8" stroke="#cdcdcd" stroke-width="0.9" stroke-dasharray="1 3.3"/>
<line x1="156.5" y1="165" x2="156.5" y2="256.8" stroke="#cdcdcd" stroke-width="0.9" stroke-dasharray="1 3.3"/>
<line x1="164.5" y1="165" x2="164.5" y2="256.8" stroke="#cdcdcd" stroke-width="0.9" stroke-dasharray="1 3.3"/>
<line x1="173.5" y1="165" x2="173.5" y2="256.8" stroke="#cdcdcd" stroke-width="0.9" stroke-dasharray="1 3.3"/>
<line x1="181.5" y1="165" x2="181.5" y2="256.8" stroke="#cdcdcd" stroke-width="0.9" stroke-dasharray="1 3.3"/>
<line x1="139.5" y1="165" x2="139.5" y2="256.8" stroke="#cdcdcd" stroke-width="0.9" stroke-dasharray="1 3.3"/>
<line x1="148.5" y1="165" x2="148.5" y2="256.8" stroke="#cdcdcd" stroke-width="0.9" stroke-dasharray="1 3.3"/>
<line x1="156.5" y1="165" x2="156.5" y2="256.8" stroke="#cdcdcd" stroke-width="0.9" stroke-dasharray="1 3.3"/>
<line x1="164.5" y1="165" x2="164.5" y2="256.8" stroke="#cdcdcd" stroke-width="0.9" stroke-dasharray="1 3.3"/>
<line x1="173.5" y1="165" x2="173.5" y2="256.8" stroke="#cdcdcd" stroke-width="0.9" stroke-dasharray="1 3.3"/>
<line x1="181.5" y1="165" x2="181.5" y2="256.8" stroke="#cdcdcd" stroke-width="0.9" stroke-dasharray="1 3.3"/>
<line x1="190.5" y1="165" x2="190.5" y2="256.8" stroke="#cdcdcd" stroke-width="0.9" stroke-dasharray="1 3.3"/>
<line x1="198.5" y1="165" x2="198.5" y2="256.8" stroke="#cdcdcd" stroke-width="0.9" stroke-dasharray="1 3.3"/>
<line x1="34.6" y1="188.8" x2="202.6" y2="188.8" stroke="#e2e2e2" stroke-width="0.9" />
<line x1="34.6" y1="211.7" x2="202.6" y2="211.7" stroke="#e2e2e2" stroke-width="0.9" />
<line x1="34.6" y1="234.9" x2="202.6" y2="234.9" stroke="#e2e2e2" stroke-width="0.9" />
<line x1="55.6" y1="163" x2="55.6" y2="257.8" stroke="#e2e2e2" stroke-width="0.9" />
<line x1="97.6" y1="163" x2="97.6" y2="257.8" stroke="#e2e2e2" stroke-width="0.9" />
<line x1="139.6" y1="163" x2="139.6" y2="257.8" stroke="#e2e2e2" stroke-width="0.9" />
<line x1="181.6" y1="163" x2="181.6" y2="257.8" stroke="#e2e2e2" stroke-width="0.9" />
<line x1="34.6" y1="165.6" x2="36.4" y2="165.6" stroke="#333333" stroke-width="0.8" />
<line x1="202.6" y1="165.6" x2="200.8" y2="165.6" stroke="#333333" stroke-width="0.8" />
<line x1="34.6" y1="188.8" x2="36.4" y2="188.8" stroke="#333333" stroke-width="0.8" />
<line x1="202.6" y1="188.8" x2="200.8" y2="188.8" stroke="#333333" stroke-width="0.8" />
<line x1="34.6" y1="211.7" x2="36.4" y2="211.7" stroke="#333333" stroke-width="0.8" />
<line x1="202.6" y1="211.7" x2="200.8" y2="211.7" stroke="#333333" stroke-width="0.8" />
<line x1="34.6" y1="234.9" x2="36.4" y2="234.9" stroke="#333333" stroke-width="0.8" />
<line x1="202.6" y1="234.9" x2="200.8" y2="234.9" stroke="#333333" stroke-width="0.8" />
<line x1="34.6" y1="257.8" x2="36.4" y2="257.8" stroke="#333333" stroke-width="0.8" />
<line x1="202.6" y1="257.8" x2="200.8" y2="257.8" stroke="#333333" stroke-width="0.8" />
<line x1="55.6" y1="257.8" x2="55.6" y2="256" stroke="#333333" stroke-width="0.8" />
<line x1="55.6" y1="163" x2="55.6" y2="164.8" stroke="#333333" stroke-width="0.8" />
<line x1="97.6" y1="257.8" x2="97.6" y2="256" stroke="#333333" stroke-width="0.8" />
<line x1="97.6" y1="163" x2="97.6" y2="164.8" stroke="#333333" stroke-width="0.8" />
<line x1="139.6" y1="257.8" x2="139.6" y2="256" stroke="#333333" stroke-width="0.8" />
<line x1="139.6" y1="163" x2="139.6" y2="164.8" stroke="#333333" stroke-width="0.8" />
<line x1="181.6" y1="257.8" x2="181.6" y2="256" stroke="#333333" stroke-width="0.8" />
<line x1="181.6" y1="163" x2="181.6" y2="164.8" stroke="#333333" stroke-width="0.8" />
<rect x="34.6" y="163" width="168" height="94.8" fill="none" stroke="#333333" stroke-width="1"/>
<text x="31.4" y="169.4" font-size="9.6" text-anchor="end" fill="#262626" font-weight="normal" >0.4</text>
<text x="31.4" y="192.6" font-size="9.6" text-anchor="end" fill="#262626" font-weight="normal" >0.3</text>
<text x="31.4" y="215.5" font-size="9.6" text-anchor="end" fill="#262626" font-weight="normal" >0.2</text>
<text x="31.4" y="238.7" font-size="9.6" text-anchor="end" fill="#262626" font-weight="normal" >0.1</text>
<text x="31.4" y="261.6" font-size="9.6" text-anchor="end" fill="#262626" font-weight="normal" >0</text>
<polyline points="55.6,247.2 97.6,241.1 139.6,215.8 181.6,185.1" fill="none" stroke="#000000" stroke-width="1.9" stroke-linejoin="round"/>
<circle cx="55.6" cy="247.2" r="1.7" fill="white" stroke="#000000" stroke-width="1"/>
<circle cx="97.6" cy="241.1" r="1.7" fill="#000000" stroke="#000000" stroke-width="1"/>
<circle cx="139.6" cy="215.8" r="1.7" fill="#000000" stroke="#000000" stroke-width="1"/>
<circle cx="181.6" cy="185.1" r="1.7" fill="white" stroke="#000000" stroke-width="1"/>
<polyline points="55.6,244.5 97.6,241.1 139.6,222.6 181.6,197.4" fill="none" stroke="#ff0000" stroke-width="1.9" stroke-linejoin="round"/>
<circle cx="55.6" cy="244.5" r="1.7" fill="white" stroke="#ff0000" stroke-width="1"/>
<circle cx="97.6" cy="241.1" r="1.7" fill="#ff0000" stroke="#ff0000" stroke-width="1"/>
<circle cx="139.6" cy="222.6" r="1.7" fill="#ff0000" stroke="#ff0000" stroke-width="1"/>
<circle cx="181.6" cy="197.4" r="1.7" fill="white" stroke="#ff0000" stroke-width="1"/>
<polyline points="55.6,247.9 97.6,252 139.6,244.8 181.6,203.8" fill="none" stroke="#009900" stroke-width="1.9" stroke-linejoin="round"/>
<circle cx="55.6" cy="247.9" r="1.7" fill="white" stroke="#009900" stroke-width="1"/>
<circle cx="97.6" cy="252" r="1.7" fill="#009900" stroke="#009900" stroke-width="1"/>
<circle cx="139.6" cy="244.8" r="1.7" fill="#009900" stroke="#009900" stroke-width="1"/>
<circle cx="181.6" cy="203.8" r="1.7" fill="white" stroke="#009900" stroke-width="1"/>
<rect x="39.3" y="169" width="72.3" height="29.4" fill="none" stroke="#333333" stroke-width="0.9"/>
<line x1="41.5" y1="174.3" x2="58.5" y2="174.3" stroke="#000000" stroke-width="2.1" />
<circle cx="50" cy="174.3" r="1.8" fill="#000000" stroke="#000000" stroke-width="1"/>
<text x="60.4" y="177.2" font-size="8.25" text-anchor="start" fill="#1a1a1a" font-weight="normal" style="stroke-width:0.32px">Cells centroid</text>
<line x1="41.5" y1="184" x2="58.5" y2="184" stroke="#ff0000" stroke-width="2.1" />
<circle cx="50" cy="184" r="1.8" fill="#ff0000" stroke="#ff0000" stroke-width="1"/>
<text x="60.4" y="186.9" font-size="8.25" text-anchor="start" fill="#1a1a1a" font-weight="normal" style="stroke-width:0.32px">Wing junctions</text>
<line x1="41.5" y1="193.6" x2="58.5" y2="193.6" stroke="#009900" stroke-width="2.1" />
<circle cx="50" cy="193.6" r="1.8" fill="#009900" stroke="#009900" stroke-width="1"/>
<text x="60.4" y="196.5" font-size="8.25" text-anchor="start" fill="#1a1a1a" font-weight="normal" style="stroke-width:0.32px">Wing outline</text>
<text x="0" y="0" font-size="9.8" text-anchor="middle" fill="#262626" textLength="89.9" lengthAdjust="spacingAndGlyphs" transform="translate(15.8,209.15) rotate(-90)">Mean distance (mm)</text>
<text x="1" y="153.4" font-size="13.5" text-anchor="start" fill="#111" font-weight="normal" >e</text>
<use href="#wings" transform="translate(0,141.2)"/>
<line x1="385.5" y1="167.5" x2="551.7" y2="167.5" stroke="#cdcdcd" stroke-width="0.9" stroke-dasharray="1 2.5"/>
<line x1="385.5" y1="172.5" x2="551.7" y2="172.5" stroke="#cdcdcd" stroke-width="0.9" stroke-dasharray="1 2.5"/>
<line x1="385.5" y1="177.5" x2="551.7" y2="177.5" stroke="#cdcdcd" stroke-width="0.9" stroke-dasharray="1 2.5"/>
<line x1="385.5" y1="182.5" x2="551.7" y2="182.5" stroke="#cdcdcd" stroke-width="0.9" stroke-dasharray="1 2.5"/>
<line x1="385.5" y1="186.5" x2="551.7" y2="186.5" stroke="#cdcdcd" stroke-width="0.9" stroke-dasharray="1 2.5"/>
<line x1="385.5" y1="191.5" x2="551.7" y2="191.5" stroke="#cdcdcd" stroke-width="0.9" stroke-dasharray="1 2.5"/>
<line x1="385.5" y1="196.5" x2="551.7" y2="196.5" stroke="#cdcdcd" stroke-width="0.9" stroke-dasharray="1 2.5"/>
<line x1="385.5" y1="201.5" x2="551.7" y2="201.5" stroke="#cdcdcd" stroke-width="0.9" stroke-dasharray="1 2.5"/>
<line x1="385.5" y1="205.5" x2="551.7" y2="205.5" stroke="#cdcdcd" stroke-width="0.9" stroke-dasharray="1 2.5"/>
<line x1="385.5" y1="210.5" x2="551.7" y2="210.5" stroke="#cdcdcd" stroke-width="0.9" stroke-dasharray="1 2.5"/>
<line x1="385.5" y1="215.5" x2="551.7" y2="215.5" stroke="#cdcdcd" stroke-width="0.9" stroke-dasharray="1 2.5"/>
<line x1="385.5" y1="219.5" x2="551.7" y2="219.5" stroke="#cdcdcd" stroke-width="0.9" stroke-dasharray="1 2.5"/>
<line x1="385.5" y1="224.5" x2="551.7" y2="224.5" stroke="#cdcdcd" stroke-width="0.9" stroke-dasharray="1 2.5"/>
<line x1="385.5" y1="229.5" x2="551.7" y2="229.5" stroke="#cdcdcd" stroke-width="0.9" stroke-dasharray="1 2.5"/>
<line x1="385.5" y1="234.5" x2="551.7" y2="234.5" stroke="#cdcdcd" stroke-width="0.9" stroke-dasharray="1 2.5"/>
<line x1="385.5" y1="238.5" x2="551.7" y2="238.5" stroke="#cdcdcd" stroke-width="0.9" stroke-dasharray="1 2.5"/>
<line x1="385.5" y1="243.5" x2="551.7" y2="243.5" stroke="#cdcdcd" stroke-width="0.9" stroke-dasharray="1 2.5"/>
<line x1="385.5" y1="248.5" x2="551.7" y2="248.5" stroke="#cdcdcd" stroke-width="0.9" stroke-dasharray="1 2.5"/>
<line x1="385.5" y1="253.5" x2="551.7" y2="253.5" stroke="#cdcdcd" stroke-width="0.9" stroke-dasharray="1 2.5"/>
<line x1="388.5" y1="165" x2="388.5" y2="256.8" stroke="#cdcdcd" stroke-width="0.9" stroke-dasharray="1 3.3"/>
<line x1="397.5" y1="165" x2="397.5" y2="256.8" stroke="#cdcdcd" stroke-width="0.9" stroke-dasharray="1 3.3"/>
<line x1="405.5" y1="165" x2="405.5" y2="256.8" stroke="#cdcdcd" stroke-width="0.9" stroke-dasharray="1 3.3"/>
<line x1="413.5" y1="165" x2="413.5" y2="256.8" stroke="#cdcdcd" stroke-width="0.9" stroke-dasharray="1 3.3"/>
<line x1="422.5" y1="165" x2="422.5" y2="256.8" stroke="#cdcdcd" stroke-width="0.9" stroke-dasharray="1 3.3"/>
<line x1="430.5" y1="165" x2="430.5" y2="256.8" stroke="#cdcdcd" stroke-width="0.9" stroke-dasharray="1 3.3"/>
<line x1="439.5" y1="165" x2="439.5" y2="256.8" stroke="#cdcdcd" stroke-width="0.9" stroke-dasharray="1 3.3"/>
<line x1="447.5" y1="165" x2="447.5" y2="256.8" stroke="#cdcdcd" stroke-width="0.9" stroke-dasharray="1 3.3"/>
<line x1="405.5" y1="165" x2="405.5" y2="256.8" stroke="#cdcdcd" stroke-width="0.9" stroke-dasharray="1 3.3"/>
<line x1="413.5" y1="165" x2="413.5" y2="256.8" stroke="#cdcdcd" stroke-width="0.9" stroke-dasharray="1 3.3"/>
<line x1="422.5" y1="165" x2="422.5" y2="256.8" stroke="#cdcdcd" stroke-width="0.9" stroke-dasharray="1 3.3"/>
<line x1="430.5" y1="165" x2="430.5" y2="256.8" stroke="#cdcdcd" stroke-width="0.9" stroke-dasharray="1 3.3"/>
<line x1="439.5" y1="165" x2="439.5" y2="256.8" stroke="#cdcdcd" stroke-width="0.9" stroke-dasharray="1 3.3"/>
<line x1="447.5" y1="165" x2="447.5" y2="256.8" stroke="#cdcdcd" stroke-width="0.9" stroke-dasharray="1 3.3"/>
<line x1="455.5" y1="165" x2="455.5" y2="256.8" stroke="#cdcdcd" stroke-width="0.9" stroke-dasharray="1 3.3"/>
<line x1="464.5" y1="165" x2="464.5" y2="256.8" stroke="#cdcdcd" stroke-width="0.9" stroke-dasharray="1 3.3"/>
<line x1="472.5" y1="165" x2="472.5" y2="256.8" stroke="#cdcdcd" stroke-width="0.9" stroke-dasharray="1 3.3"/>
<line x1="481.5" y1="165" x2="481.5" y2="256.8" stroke="#cdcdcd" stroke-width="0.9" stroke-dasharray="1 3.3"/>
<line x1="489.5" y1="165" x2="489.5" y2="256.8" stroke="#cdcdcd" stroke-width="0.9" stroke-dasharray="1 3.3"/>
<line x1="447.5" y1="165" x2="447.5" y2="256.8" stroke="#cdcdcd" stroke-width="0.9" stroke-dasharray="1 3.3"/>
<line x1="455.5" y1="165" x2="455.5" y2="256.8" stroke="#cdcdcd" stroke-width="0.9" stroke-dasharray="1 3.3"/>
<line x1="464.5" y1="165" x2="464.5" y2="256.8" stroke="#cdcdcd" stroke-width="0.9" stroke-dasharray="1 3.3"/>
<line x1="472.5" y1="165" x2="472.5" y2="256.8" stroke="#cdcdcd" stroke-width="0.9" stroke-dasharray="1 3.3"/>
<line x1="481.5" y1="165" x2="481.5" y2="256.8" stroke="#cdcdcd" stroke-width="0.9" stroke-dasharray="1 3.3"/>
<line x1="489.5" y1="165" x2="489.5" y2="256.8" stroke="#cdcdcd" stroke-width="0.9" stroke-dasharray="1 3.3"/>
<line x1="497.5" y1="165" x2="497.5" y2="256.8" stroke="#cdcdcd" stroke-width="0.9" stroke-dasharray="1 3.3"/>
<line x1="506.5" y1="165" x2="506.5" y2="256.8" stroke="#cdcdcd" stroke-width="0.9" stroke-dasharray="1 3.3"/>
<line x1="514.5" y1="165" x2="514.5" y2="256.8" stroke="#cdcdcd" stroke-width="0.9" stroke-dasharray="1 3.3"/>
<line x1="523.5" y1="165" x2="523.5" y2="256.8" stroke="#cdcdcd" stroke-width="0.9" stroke-dasharray="1 3.3"/>
<line x1="531.5" y1="165" x2="531.5" y2="256.8" stroke="#cdcdcd" stroke-width="0.9" stroke-dasharray="1 3.3"/>
<line x1="489.5" y1="165" x2="489.5" y2="256.8" stroke="#cdcdcd" stroke-width="0.9" stroke-dasharray="1 3.3"/>
<line x1="497.5" y1="165" x2="497.5" y2="256.8" stroke="#cdcdcd" stroke-width="0.9" stroke-dasharray="1 3.3"/>
<line x1="506.5" y1="165" x2="506.5" y2="256.8" stroke="#cdcdcd" stroke-width="0.9" stroke-dasharray="1 3.3"/>
<line x1="514.5" y1="165" x2="514.5" y2="256.8" stroke="#cdcdcd" stroke-width="0.9" stroke-dasharray="1 3.3"/>
<line x1="523.5" y1="165" x2="523.5" y2="256.8" stroke="#cdcdcd" stroke-width="0.9" stroke-dasharray="1 3.3"/>
<line x1="531.5" y1="165" x2="531.5" y2="256.8" stroke="#cdcdcd" stroke-width="0.9" stroke-dasharray="1 3.3"/>
<line x1="539.5" y1="165" x2="539.5" y2="256.8" stroke="#cdcdcd" stroke-width="0.9" stroke-dasharray="1 3.3"/>
<line x1="548.5" y1="165" x2="548.5" y2="256.8" stroke="#cdcdcd" stroke-width="0.9" stroke-dasharray="1 3.3"/>
<line x1="384.4" y1="186.8" x2="552.7" y2="186.8" stroke="#e2e2e2" stroke-width="0.9" />
<line x1="384.4" y1="210.3" x2="552.7" y2="210.3" stroke="#e2e2e2" stroke-width="0.9" />
<line x1="384.4" y1="233.9" x2="552.7" y2="233.9" stroke="#e2e2e2" stroke-width="0.9" />
<line x1="405.4" y1="163.2" x2="405.4" y2="257.8" stroke="#e2e2e2" stroke-width="0.9" />
<line x1="447.4" y1="163.2" x2="447.4" y2="257.8" stroke="#e2e2e2" stroke-width="0.9" />
<line x1="489.5" y1="163.2" x2="489.5" y2="257.8" stroke="#e2e2e2" stroke-width="0.9" />
<line x1="531.4" y1="163.2" x2="531.4" y2="257.8" stroke="#e2e2e2" stroke-width="0.9" />
<line x1="384.4" y1="163.2" x2="386.2" y2="163.2" stroke="#333333" stroke-width="0.8" />
<line x1="552.7" y1="163.2" x2="550.9" y2="163.2" stroke="#333333" stroke-width="0.8" />
<line x1="384.4" y1="186.8" x2="386.2" y2="186.8" stroke="#333333" stroke-width="0.8" />
<line x1="552.7" y1="186.8" x2="550.9" y2="186.8" stroke="#333333" stroke-width="0.8" />
<line x1="384.4" y1="210.3" x2="386.2" y2="210.3" stroke="#333333" stroke-width="0.8" />
<line x1="552.7" y1="210.3" x2="550.9" y2="210.3" stroke="#333333" stroke-width="0.8" />
<line x1="384.4" y1="233.9" x2="386.2" y2="233.9" stroke="#333333" stroke-width="0.8" />
<line x1="552.7" y1="233.9" x2="550.9" y2="233.9" stroke="#333333" stroke-width="0.8" />
<line x1="384.4" y1="257.8" x2="386.2" y2="257.8" stroke="#333333" stroke-width="0.8" />
<line x1="552.7" y1="257.8" x2="550.9" y2="257.8" stroke="#333333" stroke-width="0.8" />
<line x1="405.4" y1="257.8" x2="405.4" y2="256" stroke="#333333" stroke-width="0.8" />
<line x1="405.4" y1="163.2" x2="405.4" y2="165" stroke="#333333" stroke-width="0.8" />
<line x1="447.4" y1="257.8" x2="447.4" y2="256" stroke="#333333" stroke-width="0.8" />
<line x1="447.4" y1="163.2" x2="447.4" y2="165" stroke="#333333" stroke-width="0.8" />
<line x1="489.5" y1="257.8" x2="489.5" y2="256" stroke="#333333" stroke-width="0.8" />
<line x1="489.5" y1="163.2" x2="489.5" y2="165" stroke="#333333" stroke-width="0.8" />
<line x1="531.4" y1="257.8" x2="531.4" y2="256" stroke="#333333" stroke-width="0.8" />
<line x1="531.4" y1="163.2" x2="531.4" y2="165" stroke="#333333" stroke-width="0.8" />
<rect x="384.4" y="163.2" width="168.3" height="94.6" fill="none" stroke="#333333" stroke-width="1"/>
<text x="381.2" y="167" font-size="9.6" text-anchor="end" fill="#262626" font-weight="normal" >0.4</text>
<text x="381.2" y="190.6" font-size="9.6" text-anchor="end" fill="#262626" font-weight="normal" >0.3</text>
<text x="381.2" y="214.1" font-size="9.6" text-anchor="end" fill="#262626" font-weight="normal" >0.2</text>
<text x="381.2" y="237.7" font-size="9.6" text-anchor="end" fill="#262626" font-weight="normal" >0.1</text>
<text x="381.2" y="261.6" font-size="9.6" text-anchor="end" fill="#262626" font-weight="normal" >0</text>
<polyline points="405.4,252 447.4,246.2 489.5,230.5 531.4,215.1" fill="none" stroke="#000000" stroke-width="1.5" stroke-linejoin="round"/>
<circle cx="405.4" cy="252" r="1.5" fill="white" stroke="#000000" stroke-width="1"/>
<circle cx="447.4" cy="246.2" r="1.5" fill="#000000" stroke="#000000" stroke-width="1"/>
<circle cx="489.5" cy="230.5" r="1.5" fill="#000000" stroke="#000000" stroke-width="1"/>
<circle cx="531.4" cy="215.1" r="1.5" fill="white" stroke="#000000" stroke-width="1"/>
<polyline points="405.4,248.9 447.4,246.2 489.5,235.9 531.4,220.2" fill="none" stroke="#ff0000" stroke-width="1.5" stroke-linejoin="round"/>
<circle cx="405.4" cy="248.9" r="1.5" fill="white" stroke="#ff0000" stroke-width="1"/>
<circle cx="447.4" cy="246.2" r="1.5" fill="#ff0000" stroke="#ff0000" stroke-width="1"/>
<circle cx="489.5" cy="235.9" r="1.5" fill="#ff0000" stroke="#ff0000" stroke-width="1"/>
<circle cx="531.4" cy="220.2" r="1.5" fill="white" stroke="#ff0000" stroke-width="1"/>
<polyline points="405.4,252 447.4,255.7 489.5,247.5 531.4,197.4" fill="none" stroke="#009900" stroke-width="1.5" stroke-linejoin="round"/>
<circle cx="405.4" cy="252" r="1.5" fill="white" stroke="#009900" stroke-width="1"/>
<circle cx="447.4" cy="255.7" r="1.5" fill="#009900" stroke="#009900" stroke-width="1"/>
<circle cx="489.5" cy="247.5" r="1.5" fill="#009900" stroke="#009900" stroke-width="1"/>
<circle cx="531.4" cy="197.4" r="1.5" fill="white" stroke="#009900" stroke-width="1"/>
<text x="0" y="0" font-size="9.8" text-anchor="middle" fill="#262626" textLength="81.9" lengthAdjust="spacingAndGlyphs" transform="translate(367,210.25) rotate(-90)">Mean distance STD</text>
<text x="375.5" y="153.4" font-size="13.5" text-anchor="start" fill="#111" font-weight="normal" >g</text>
<use href="#wings" transform="translate(350.5,141.2)"/>
<line x1="35.5" y1="310.5" x2="201.7" y2="310.5" stroke="#cdcdcd" stroke-width="0.9" stroke-dasharray="1 2.5"/>
<line x1="35.5" y1="316.5" x2="201.7" y2="316.5" stroke="#cdcdcd" stroke-width="0.9" stroke-dasharray="1 2.5"/>
<line x1="35.5" y1="323.5" x2="201.7" y2="323.5" stroke="#cdcdcd" stroke-width="0.9" stroke-dasharray="1 2.5"/>
<line x1="35.5" y1="329.5" x2="201.7" y2="329.5" stroke="#cdcdcd" stroke-width="0.9" stroke-dasharray="1 2.5"/>
<line x1="35.5" y1="335.5" x2="201.7" y2="335.5" stroke="#cdcdcd" stroke-width="0.9" stroke-dasharray="1 2.5"/>
<line x1="35.5" y1="342.5" x2="201.7" y2="342.5" stroke="#cdcdcd" stroke-width="0.9" stroke-dasharray="1 2.5"/>
<line x1="35.5" y1="348.5" x2="201.7" y2="348.5" stroke="#cdcdcd" stroke-width="0.9" stroke-dasharray="1 2.5"/>
<line x1="35.5" y1="354.5" x2="201.7" y2="354.5" stroke="#cdcdcd" stroke-width="0.9" stroke-dasharray="1 2.5"/>
<line x1="35.5" y1="361.5" x2="201.7" y2="361.5" stroke="#cdcdcd" stroke-width="0.9" stroke-dasharray="1 2.5"/>
<line x1="35.5" y1="367.5" x2="201.7" y2="367.5" stroke="#cdcdcd" stroke-width="0.9" stroke-dasharray="1 2.5"/>
<line x1="35.5" y1="373.5" x2="201.7" y2="373.5" stroke="#cdcdcd" stroke-width="0.9" stroke-dasharray="1 2.5"/>
<line x1="35.5" y1="380.5" x2="201.7" y2="380.5" stroke="#cdcdcd" stroke-width="0.9" stroke-dasharray="1 2.5"/>
<line x1="35.5" y1="386.5" x2="201.7" y2="386.5" stroke="#cdcdcd" stroke-width="0.9" stroke-dasharray="1 2.5"/>
<line x1="35.5" y1="393.5" x2="201.7" y2="393.5" stroke="#cdcdcd" stroke-width="0.9" stroke-dasharray="1 2.5"/>
<line x1="38.5" y1="305" x2="38.5" y2="398.4" stroke="#cdcdcd" stroke-width="0.9" stroke-dasharray="1 3.3"/>
<line x1="47.5" y1="305" x2="47.5" y2="398.4" stroke="#cdcdcd" stroke-width="0.9" stroke-dasharray="1 3.3"/>
<line x1="55.5" y1="305" x2="55.5" y2="398.4" stroke="#cdcdcd" stroke-width="0.9" stroke-dasharray="1 3.3"/>
<line x1="63.5" y1="305" x2="63.5" y2="398.4" stroke="#cdcdcd" stroke-width="0.9" stroke-dasharray="1 3.3"/>
<line x1="72.5" y1="305" x2="72.5" y2="398.4" stroke="#cdcdcd" stroke-width="0.9" stroke-dasharray="1 3.3"/>
<line x1="80.5" y1="305" x2="80.5" y2="398.4" stroke="#cdcdcd" stroke-width="0.9" stroke-dasharray="1 3.3"/>
<line x1="89.5" y1="305" x2="89.5" y2="398.4" stroke="#cdcdcd" stroke-width="0.9" stroke-dasharray="1 3.3"/>
<line x1="97.5" y1="305" x2="97.5" y2="398.4" stroke="#cdcdcd" stroke-width="0.9" stroke-dasharray="1 3.3"/>
<line x1="55.5" y1="305" x2="55.5" y2="398.4" stroke="#cdcdcd" stroke-width="0.9" stroke-dasharray="1 3.3"/>
<line x1="63.5" y1="305" x2="63.5" y2="398.4" stroke="#cdcdcd" stroke-width="0.9" stroke-dasharray="1 3.3"/>
<line x1="72.5" y1="305" x2="72.5" y2="398.4" stroke="#cdcdcd" stroke-width="0.9" stroke-dasharray="1 3.3"/>
<line x1="80.5" y1="305" x2="80.5" y2="398.4" stroke="#cdcdcd" stroke-width="0.9" stroke-dasharray="1 3.3"/>
<line x1="89.5" y1="305" x2="89.5" y2="398.4" stroke="#cdcdcd" stroke-width="0.9" stroke-dasharray="1 3.3"/>
<line x1="97.5" y1="305" x2="97.5" y2="398.4" stroke="#cdcdcd" stroke-width="0.9" stroke-dasharray="1 3.3"/>
<line x1="105.5" y1="305" x2="105.5" y2="398.4" stroke="#cdcdcd" stroke-width="0.9" stroke-dasharray="1 3.3"/>
<line x1="114.5" y1="305" x2="114.5" y2="398.4" stroke="#cdcdcd" stroke-width="0.9" stroke-dasharray="1 3.3"/>
<line x1="122.5" y1="305" x2="122.5" y2="398.4" stroke="#cdcdcd" stroke-width="0.9" stroke-dasharray="1 3.3"/>
<line x1="131.5" y1="305" x2="131.5" y2="398.4" stroke="#cdcdcd" stroke-width="0.9" stroke-dasharray="1 3.3"/>
<line x1="139.5" y1="305" x2="139.5" y2="398.4" stroke="#cdcdcd" stroke-width="0.9" stroke-dasharray="1 3.3"/>
<line x1="97.5" y1="305" x2="97.5" y2="398.4" stroke="#cdcdcd" stroke-width="0.9" stroke-dasharray="1 3.3"/>
<line x1="105.5" y1="305" x2="105.5" y2="398.4" stroke="#cdcdcd" stroke-width="0.9" stroke-dasharray="1 3.3"/>
<line x1="114.5" y1="305" x2="114.5" y2="398.4" stroke="#cdcdcd" stroke-width="0.9" stroke-dasharray="1 3.3"/>
<line x1="122.5" y1="305" x2="122.5" y2="398.4" stroke="#cdcdcd" stroke-width="0.9" stroke-dasharray="1 3.3"/>
<line x1="131.5" y1="305" x2="131.5" y2="398.4" stroke="#cdcdcd" stroke-width="0.9" stroke-dasharray="1 3.3"/>
<line x1="139.5" y1="305" x2="139.5" y2="398.4" stroke="#cdcdcd" stroke-width="0.9" stroke-dasharray="1 3.3"/>
<line x1="147.5" y1="305" x2="147.5" y2="398.4" stroke="#cdcdcd" stroke-width="0.9" stroke-dasharray="1 3.3"/>
<line x1="156.5" y1="305" x2="156.5" y2="398.4" stroke="#cdcdcd" stroke-width="0.9" stroke-dasharray="1 3.3"/>
<line x1="164.5" y1="305" x2="164.5" y2="398.4" stroke="#cdcdcd" stroke-width="0.9" stroke-dasharray="1 3.3"/>
<line x1="173.5" y1="305" x2="173.5" y2="398.4" stroke="#cdcdcd" stroke-width="0.9" stroke-dasharray="1 3.3"/>
<line x1="181.5" y1="305" x2="181.5" y2="398.4" stroke="#cdcdcd" stroke-width="0.9" stroke-dasharray="1 3.3"/>
<line x1="139.5" y1="305" x2="139.5" y2="398.4" stroke="#cdcdcd" stroke-width="0.9" stroke-dasharray="1 3.3"/>
<line x1="148.5" y1="305" x2="148.5" y2="398.4" stroke="#cdcdcd" stroke-width="0.9" stroke-dasharray="1 3.3"/>
<line x1="156.5" y1="305" x2="156.5" y2="398.4" stroke="#cdcdcd" stroke-width="0.9" stroke-dasharray="1 3.3"/>
<line x1="164.5" y1="305" x2="164.5" y2="398.4" stroke="#cdcdcd" stroke-width="0.9" stroke-dasharray="1 3.3"/>
<line x1="173.5" y1="305" x2="173.5" y2="398.4" stroke="#cdcdcd" stroke-width="0.9" stroke-dasharray="1 3.3"/>
<line x1="181.5" y1="305" x2="181.5" y2="398.4" stroke="#cdcdcd" stroke-width="0.9" stroke-dasharray="1 3.3"/>
<line x1="190.5" y1="305" x2="190.5" y2="398.4" stroke="#cdcdcd" stroke-width="0.9" stroke-dasharray="1 3.3"/>
<line x1="198.5" y1="305" x2="198.5" y2="398.4" stroke="#cdcdcd" stroke-width="0.9" stroke-dasharray="1 3.3"/>
<line x1="34.4" y1="335.8" x2="202.7" y2="335.8" stroke="#e2e2e2" stroke-width="0.9" />
<line x1="34.4" y1="367.4" x2="202.7" y2="367.4" stroke="#e2e2e2" stroke-width="0.9" />
<line x1="55.5" y1="303.9" x2="55.5" y2="399.4" stroke="#e2e2e2" stroke-width="0.9" />
<line x1="97.5" y1="303.9" x2="97.5" y2="399.4" stroke="#e2e2e2" stroke-width="0.9" />
<line x1="139.5" y1="303.9" x2="139.5" y2="399.4" stroke="#e2e2e2" stroke-width="0.9" />
<line x1="181.6" y1="303.9" x2="181.6" y2="399.4" stroke="#e2e2e2" stroke-width="0.9" />
<line x1="34.4" y1="303.9" x2="36.2" y2="303.9" stroke="#333333" stroke-width="0.8" />
<line x1="202.7" y1="303.9" x2="200.9" y2="303.9" stroke="#333333" stroke-width="0.8" />
<line x1="34.4" y1="335.8" x2="36.2" y2="335.8" stroke="#333333" stroke-width="0.8" />
<line x1="202.7" y1="335.8" x2="200.9" y2="335.8" stroke="#333333" stroke-width="0.8" />
<line x1="34.4" y1="367.4" x2="36.2" y2="367.4" stroke="#333333" stroke-width="0.8" />
<line x1="202.7" y1="367.4" x2="200.9" y2="367.4" stroke="#333333" stroke-width="0.8" />
<line x1="34.4" y1="399.4" x2="36.2" y2="399.4" stroke="#333333" stroke-width="0.8" />
<line x1="202.7" y1="399.4" x2="200.9" y2="399.4" stroke="#333333" stroke-width="0.8" />
<line x1="55.5" y1="399.4" x2="55.5" y2="397.6" stroke="#333333" stroke-width="0.8" />
<line x1="55.5" y1="303.9" x2="55.5" y2="305.7" stroke="#333333" stroke-width="0.8" />
<line x1="97.5" y1="399.4" x2="97.5" y2="397.6" stroke="#333333" stroke-width="0.8" />
<line x1="97.5" y1="303.9" x2="97.5" y2="305.7" stroke="#333333" stroke-width="0.8" />
<line x1="139.5" y1="399.4" x2="139.5" y2="397.6" stroke="#333333" stroke-width="0.8" />
<line x1="139.5" y1="303.9" x2="139.5" y2="305.7" stroke="#333333" stroke-width="0.8" />
<line x1="181.6" y1="399.4" x2="181.6" y2="397.6" stroke="#333333" stroke-width="0.8" />
<line x1="181.6" y1="303.9" x2="181.6" y2="305.7" stroke="#333333" stroke-width="0.8" />
<rect x="34.4" y="303.9" width="168.3" height="95.5" fill="none" stroke="#333333" stroke-width="1"/>
<text x="31.2" y="307.7" font-size="9.6" text-anchor="end" fill="#262626" font-weight="normal" >60</text>
<text x="31.2" y="339.6" font-size="9.6" text-anchor="end" fill="#262626" font-weight="normal" >40</text>
<text x="31.2" y="371.2" font-size="9.6" text-anchor="end" fill="#262626" font-weight="normal" >20</text>
<text x="31.2" y="403.2" font-size="9.6" text-anchor="end" fill="#262626" font-weight="normal" >0</text>
<polyline points="59.9,399.3 100.8,389.4 141.2,383.4 181.8,315.1" fill="none" stroke="#000000" stroke-width="2.9" stroke-linejoin="round"/>
<circle cx="59.9" cy="399.3" r="1.8" fill="white" stroke="#000000" stroke-width="1"/>
<circle cx="100.8" cy="389.4" r="1.8" fill="#000000" stroke="#000000" stroke-width="1"/>
<circle cx="141.2" cy="383.4" r="1.8" fill="#000000" stroke="#000000" stroke-width="1"/>
<circle cx="181.8" cy="315.1" r="1.8" fill="white" stroke="#000000" stroke-width="1"/>
<polyline points="59.9,399.3 100.8,396.3 141.2,388.2 181.8,364.1" fill="none" stroke="#ff0000" stroke-width="2.9" stroke-linejoin="round"/>
<circle cx="59.9" cy="399.3" r="1.8" fill="white" stroke="#ff0000" stroke-width="1"/>
<circle cx="100.8" cy="396.3" r="1.8" fill="#ff0000" stroke="#ff0000" stroke-width="1"/>
<circle cx="141.2" cy="388.2" r="1.8" fill="#ff0000" stroke="#ff0000" stroke-width="1"/>
<circle cx="181.8" cy="364.1" r="1.8" fill="white" stroke="#ff0000" stroke-width="1"/>
<rect x="40.2" y="318.9" width="53" height="20.5" fill="none" stroke="#333333" stroke-width="0.9"/>
<line x1="42" y1="324.3" x2="58.5" y2="324.3" stroke="#000000" stroke-width="2.1" />
<circle cx="50.25" cy="324.3" r="1.8" fill="#000000" stroke="#000000" stroke-width="1"/>
<text x="60.4" y="327.2" font-size="8" text-anchor="start" fill="#1a1a1a" font-weight="normal" style="stroke-width:0.32px">Junctions</text>
<line x1="42" y1="334" x2="58.5" y2="334" stroke="#ff0000" stroke-width="2.1" />
<circle cx="50.25" cy="334" r="1.8" fill="#ff0000" stroke="#ff0000" stroke-width="1"/>
<text x="60.4" y="336.9" font-size="8" text-anchor="start" fill="#1a1a1a" font-weight="normal" style="stroke-width:0.32px">Cells</text>
<text x="0" y="0" font-size="9.8" text-anchor="middle" fill="#262626" font-family="Liberation Sans" textLength="66" lengthAdjust="spacingAndGlyphs" transform="translate(17.2,352.1) rotate(-90)">Subtract values</text>
<text x="0.5" y="294.6" font-size="13.5" text-anchor="start" fill="#111" font-weight="normal" >i</text>
<use href="#wings" transform="translate(0,283.4)"/>
<line x1="385.5" y1="313.5" x2="551.3" y2="313.5" stroke="#cdcdcd" stroke-width="0.9" stroke-dasharray="1 2.5"/>
<line x1="385.5" y1="323.5" x2="551.3" y2="323.5" stroke="#cdcdcd" stroke-width="0.9" stroke-dasharray="1 2.5"/>
<line x1="385.5" y1="332.5" x2="551.3" y2="332.5" stroke="#cdcdcd" stroke-width="0.9" stroke-dasharray="1 2.5"/>
<line x1="385.5" y1="342.5" x2="551.3" y2="342.5" stroke="#cdcdcd" stroke-width="0.9" stroke-dasharray="1 2.5"/>
<line x1="385.5" y1="351.5" x2="551.3" y2="351.5" stroke="#cdcdcd" stroke-width="0.9" stroke-dasharray="1 2.5"/>
<line x1="385.5" y1="361.5" x2="551.3" y2="361.5" stroke="#cdcdcd" stroke-width="0.9" stroke-dasharray="1 2.5"/>
<line x1="385.5" y1="370.5" x2="551.3" y2="370.5" stroke="#cdcdcd" stroke-width="0.9" stroke-dasharray="1 2.5"/>
<line x1="385.5" y1="380.5" x2="551.3" y2="380.5" stroke="#cdcdcd" stroke-width="0.9" stroke-dasharray="1 2.5"/>
<line x1="385.5" y1="389.5" x2="551.3" y2="389.5" stroke="#cdcdcd" stroke-width="0.9" stroke-dasharray="1 2.5"/>
<line x1="388.5" y1="306" x2="388.5" y2="398.3" stroke="#cdcdcd" stroke-width="0.9" stroke-dasharray="1 3.3"/>
<line x1="396.5" y1="306" x2="396.5" y2="398.3" stroke="#cdcdcd" stroke-width="0.9" stroke-dasharray="1 3.3"/>
<line x1="404.5" y1="306" x2="404.5" y2="398.3" stroke="#cdcdcd" stroke-width="0.9" stroke-dasharray="1 3.3"/>
<line x1="413.5" y1="306" x2="413.5" y2="398.3" stroke="#cdcdcd" stroke-width="0.9" stroke-dasharray="1 3.3"/>
<line x1="421.5" y1="306" x2="421.5" y2="398.3" stroke="#cdcdcd" stroke-width="0.9" stroke-dasharray="1 3.3"/>
<line x1="430.5" y1="306" x2="430.5" y2="398.3" stroke="#cdcdcd" stroke-width="0.9" stroke-dasharray="1 3.3"/>
<line x1="438.5" y1="306" x2="438.5" y2="398.3" stroke="#cdcdcd" stroke-width="0.9" stroke-dasharray="1 3.3"/>
<line x1="446.5" y1="306" x2="446.5" y2="398.3" stroke="#cdcdcd" stroke-width="0.9" stroke-dasharray="1 3.3"/>
<line x1="404.5" y1="306" x2="404.5" y2="398.3" stroke="#cdcdcd" stroke-width="0.9" stroke-dasharray="1 3.3"/>
<line x1="413.5" y1="306" x2="413.5" y2="398.3" stroke="#cdcdcd" stroke-width="0.9" stroke-dasharray="1 3.3"/>
<line x1="421.5" y1="306" x2="421.5" y2="398.3" stroke="#cdcdcd" stroke-width="0.9" stroke-dasharray="1 3.3"/>
<line x1="430.5" y1="306" x2="430.5" y2="398.3" stroke="#cdcdcd" stroke-width="0.9" stroke-dasharray="1 3.3"/>
<line x1="438.5" y1="306" x2="438.5" y2="398.3" stroke="#cdcdcd" stroke-width="0.9" stroke-dasharray="1 3.3"/>
<line x1="446.5" y1="306" x2="446.5" y2="398.3" stroke="#cdcdcd" stroke-width="0.9" stroke-dasharray="1 3.3"/>
<line x1="455.5" y1="306" x2="455.5" y2="398.3" stroke="#cdcdcd" stroke-width="0.9" stroke-dasharray="1 3.3"/>
<line x1="463.5" y1="306" x2="463.5" y2="398.3" stroke="#cdcdcd" stroke-width="0.9" stroke-dasharray="1 3.3"/>
<line x1="472.5" y1="306" x2="472.5" y2="398.3" stroke="#cdcdcd" stroke-width="0.9" stroke-dasharray="1 3.3"/>
<line x1="480.5" y1="306" x2="480.5" y2="398.3" stroke="#cdcdcd" stroke-width="0.9" stroke-dasharray="1 3.3"/>
<line x1="488.5" y1="306" x2="488.5" y2="398.3" stroke="#cdcdcd" stroke-width="0.9" stroke-dasharray="1 3.3"/>
<line x1="447.5" y1="306" x2="447.5" y2="398.3" stroke="#cdcdcd" stroke-width="0.9" stroke-dasharray="1 3.3"/>
<line x1="456.5" y1="306" x2="456.5" y2="398.3" stroke="#cdcdcd" stroke-width="0.9" stroke-dasharray="1 3.3"/>
<line x1="464.5" y1="306" x2="464.5" y2="398.3" stroke="#cdcdcd" stroke-width="0.9" stroke-dasharray="1 3.3"/>
<line x1="472.5" y1="306" x2="472.5" y2="398.3" stroke="#cdcdcd" stroke-width="0.9" stroke-dasharray="1 3.3"/>
<line x1="481.5" y1="306" x2="481.5" y2="398.3" stroke="#cdcdcd" stroke-width="0.9" stroke-dasharray="1 3.3"/>
<line x1="489.5" y1="306" x2="489.5" y2="398.3" stroke="#cdcdcd" stroke-width="0.9" stroke-dasharray="1 3.3"/>
<line x1="498.5" y1="306" x2="498.5" y2="398.3" stroke="#cdcdcd" stroke-width="0.9" stroke-dasharray="1 3.3"/>
<line x1="506.5" y1="306" x2="506.5" y2="398.3" stroke="#cdcdcd" stroke-width="0.9" stroke-dasharray="1 3.3"/>
<line x1="514.5" y1="306" x2="514.5" y2="398.3" stroke="#cdcdcd" stroke-width="0.9" stroke-dasharray="1 3.3"/>
<line x1="523.5" y1="306" x2="523.5" y2="398.3" stroke="#cdcdcd" stroke-width="0.9" stroke-dasharray="1 3.3"/>
<line x1="531.5" y1="306" x2="531.5" y2="398.3" stroke="#cdcdcd" stroke-width="0.9" stroke-dasharray="1 3.3"/>
<line x1="489.5" y1="306" x2="489.5" y2="398.3" stroke="#cdcdcd" stroke-width="0.9" stroke-dasharray="1 3.3"/>
<line x1="497.5" y1="306" x2="497.5" y2="398.3" stroke="#cdcdcd" stroke-width="0.9" stroke-dasharray="1 3.3"/>
<line x1="506.5" y1="306" x2="506.5" y2="398.3" stroke="#cdcdcd" stroke-width="0.9" stroke-dasharray="1 3.3"/>
<line x1="514.5" y1="306" x2="514.5" y2="398.3" stroke="#cdcdcd" stroke-width="0.9" stroke-dasharray="1 3.3"/>
<line x1="523.5" y1="306" x2="523.5" y2="398.3" stroke="#cdcdcd" stroke-width="0.9" stroke-dasharray="1 3.3"/>
<line x1="531.5" y1="306" x2="531.5" y2="398.3" stroke="#cdcdcd" stroke-width="0.9" stroke-dasharray="1 3.3"/>
<line x1="539.5" y1="306" x2="539.5" y2="398.3" stroke="#cdcdcd" stroke-width="0.9" stroke-dasharray="1 3.3"/>
<line x1="548.5" y1="306" x2="548.5" y2="398.3" stroke="#cdcdcd" stroke-width="0.9" stroke-dasharray="1 3.3"/>
<line x1="384.2" y1="351.6" x2="552.3" y2="351.6" stroke="#e2e2e2" stroke-width="0.9" />
<line x1="404.9" y1="304.3" x2="404.9" y2="399.3" stroke="#e2e2e2" stroke-width="0.9" />
<line x1="446.9" y1="304.3" x2="446.9" y2="399.3" stroke="#e2e2e2" stroke-width="0.9" />
<line x1="489.7" y1="304.3" x2="489.7" y2="399.3" stroke="#e2e2e2" stroke-width="0.9" />
<line x1="531.4" y1="304.3" x2="531.4" y2="399.3" stroke="#e2e2e2" stroke-width="0.9" />
<line x1="384.2" y1="304.3" x2="386" y2="304.3" stroke="#333333" stroke-width="0.8" />
<line x1="552.3" y1="304.3" x2="550.5" y2="304.3" stroke="#333333" stroke-width="0.8" />
<line x1="384.2" y1="351.6" x2="386" y2="351.6" stroke="#333333" stroke-width="0.8" />
<line x1="552.3" y1="351.6" x2="550.5" y2="351.6" stroke="#333333" stroke-width="0.8" />
<line x1="384.2" y1="399.3" x2="386" y2="399.3" stroke="#333333" stroke-width="0.8" />
<line x1="552.3" y1="399.3" x2="550.5" y2="399.3" stroke="#333333" stroke-width="0.8" />
<line x1="404.9" y1="399.3" x2="404.9" y2="397.5" stroke="#333333" stroke-width="0.8" />
<line x1="404.9" y1="304.3" x2="404.9" y2="306.1" stroke="#333333" stroke-width="0.8" />
<line x1="446.9" y1="399.3" x2="446.9" y2="397.5" stroke="#333333" stroke-width="0.8" />
<line x1="446.9" y1="304.3" x2="446.9" y2="306.1" stroke="#333333" stroke-width="0.8" />
<line x1="489.7" y1="399.3" x2="489.7" y2="397.5" stroke="#333333" stroke-width="0.8" />
<line x1="489.7" y1="304.3" x2="489.7" y2="306.1" stroke="#333333" stroke-width="0.8" />
<line x1="531.4" y1="399.3" x2="531.4" y2="397.5" stroke="#333333" stroke-width="0.8" />
<line x1="531.4" y1="304.3" x2="531.4" y2="306.1" stroke="#333333" stroke-width="0.8" />
<rect x="384.2" y="304.3" width="168.1" height="95" fill="none" stroke="#333333" stroke-width="1"/>
<text x="381" y="308.1" font-size="9.6" text-anchor="end" fill="#262626" font-weight="normal" >10</text>
<text x="381" y="355.4" font-size="9.6" text-anchor="end" fill="#262626" font-weight="normal" >5</text>
<text x="381" y="403.1" font-size="9.6" text-anchor="end" fill="#262626" font-weight="normal" >0</text>
<polyline points="404.9,395.4 446.9,397.9 489.7,388.1 531.4,304.3" fill="none" stroke="#000000" stroke-width="2.9" stroke-linejoin="round"/>
<circle cx="404.9" cy="395.4" r="1.8" fill="white" stroke="#000000" stroke-width="1"/>
<circle cx="446.9" cy="397.9" r="1.8" fill="#000000" stroke="#000000" stroke-width="1"/>
<circle cx="489.7" cy="388.1" r="1.8" fill="#000000" stroke="#000000" stroke-width="1"/>
<circle cx="531.4" cy="304.3" r="1.8" fill="white" stroke="#000000" stroke-width="1"/>
<text x="0" y="0" font-size="9.8" text-anchor="middle" fill="#262626" textLength="126.5" lengthAdjust="spacingAndGlyphs" transform="translate(366.6,350.75) rotate(-90)"><tspan font-family="Liberation Sans">Wings</tspan> area differences (mm<tspan font-size="6.5" dy="-3.5">2</tspan><tspan dy="3.5">)</tspan></text>
<text x="376" y="294.6" font-size="13.5" text-anchor="start" fill="#111" font-weight="normal" >k</text>
<use href="#wings" transform="translate(350.5,283.4)"/>
<line x1="225.5" y1="40.5" x2="331.7" y2="40.5" stroke="#cdcdcd" stroke-width="0.9" stroke-dasharray="1 2.5"/>
<line x1="225.5" y1="43.5" x2="331.7" y2="43.5" stroke="#cdcdcd" stroke-width="0.9" stroke-dasharray="1 2.5"/>
<line x1="225.5" y1="47.5" x2="331.7" y2="47.5" stroke="#cdcdcd" stroke-width="0.9" stroke-dasharray="1 2.5"/>
<line x1="225.5" y1="51.5" x2="331.7" y2="51.5" stroke="#cdcdcd" stroke-width="0.9" stroke-dasharray="1 2.5"/>
<line x1="225.5" y1="55.5" x2="331.7" y2="55.5" stroke="#cdcdcd" stroke-width="0.9" stroke-dasharray="1 2.5"/>
<line x1="225.5" y1="59.5" x2="331.7" y2="59.5" stroke="#cdcdcd" stroke-width="0.9" stroke-dasharray="1 2.5"/>
<line x1="225.5" y1="63.5" x2="331.7" y2="63.5" stroke="#cdcdcd" stroke-width="0.9" stroke-dasharray="1 2.5"/>
<line x1="225.5" y1="66.5" x2="331.7" y2="66.5" stroke="#cdcdcd" stroke-width="0.9" stroke-dasharray="1 2.5"/>
<line x1="225.5" y1="70.5" x2="331.7" y2="70.5" stroke="#cdcdcd" stroke-width="0.9" stroke-dasharray="1 2.5"/>
<line x1="225.5" y1="74.5" x2="331.7" y2="74.5" stroke="#cdcdcd" stroke-width="0.9" stroke-dasharray="1 2.5"/>
<line x1="225.5" y1="78.5" x2="331.7" y2="78.5" stroke="#cdcdcd" stroke-width="0.9" stroke-dasharray="1 2.5"/>
<line x1="225.5" y1="82.5" x2="331.7" y2="82.5" stroke="#cdcdcd" stroke-width="0.9" stroke-dasharray="1 2.5"/>
<line x1="225.5" y1="85.5" x2="331.7" y2="85.5" stroke="#cdcdcd" stroke-width="0.9" stroke-dasharray="1 2.5"/>
<line x1="225.5" y1="89.5" x2="331.7" y2="89.5" stroke="#cdcdcd" stroke-width="0.9" stroke-dasharray="1 2.5"/>
<line x1="225.5" y1="93.5" x2="331.7" y2="93.5" stroke="#cdcdcd" stroke-width="0.9" stroke-dasharray="1 2.5"/>
<line x1="225.5" y1="97.5" x2="331.7" y2="97.5" stroke="#cdcdcd" stroke-width="0.9" stroke-dasharray="1 2.5"/>
<line x1="225.5" y1="101.5" x2="331.7" y2="101.5" stroke="#cdcdcd" stroke-width="0.9" stroke-dasharray="1 2.5"/>
<line x1="225.5" y1="105.5" x2="331.7" y2="105.5" stroke="#cdcdcd" stroke-width="0.9" stroke-dasharray="1 2.5"/>
<line x1="225.5" y1="108.5" x2="331.7" y2="108.5" stroke="#cdcdcd" stroke-width="0.9" stroke-dasharray="1 2.5"/>
<line x1="225.5" y1="112.5" x2="331.7" y2="112.5" stroke="#cdcdcd" stroke-width="0.9" stroke-dasharray="1 2.5"/>
<line x1="225.5" y1="36.5" x2="331.7" y2="36.5" stroke="#cdcdcd" stroke-width="0.9" stroke-dasharray="1 2.5"/>
<line x1="225.5" y1="32.5" x2="331.7" y2="32.5" stroke="#cdcdcd" stroke-width="0.9" stroke-dasharray="1 2.5"/>
<line x1="225.5" y1="28.5" x2="331.7" y2="28.5" stroke="#cdcdcd" stroke-width="0.9" stroke-dasharray="1 2.5"/>
<line x1="225.5" y1="24.5" x2="331.7" y2="24.5" stroke="#cdcdcd" stroke-width="0.9" stroke-dasharray="1 2.5"/>
<line x1="237.5" y1="23" x2="237.5" y2="115.3" stroke="#cdcdcd" stroke-width="0.9" stroke-dasharray="1 3.3"/>
<line x1="243.5" y1="23" x2="243.5" y2="115.3" stroke="#cdcdcd" stroke-width="0.9" stroke-dasharray="1 3.3"/>
<line x1="248.5" y1="23" x2="248.5" y2="115.3" stroke="#cdcdcd" stroke-width="0.9" stroke-dasharray="1 3.3"/>
<line x1="254.5" y1="23" x2="254.5" y2="115.3" stroke="#cdcdcd" stroke-width="0.9" stroke-dasharray="1 3.3"/>
<line x1="259.5" y1="23" x2="259.5" y2="115.3" stroke="#cdcdcd" stroke-width="0.9" stroke-dasharray="1 3.3"/>
<line x1="265.5" y1="23" x2="265.5" y2="115.3" stroke="#cdcdcd" stroke-width="0.9" stroke-dasharray="1 3.3"/>
<line x1="270.5" y1="23" x2="270.5" y2="115.3" stroke="#cdcdcd" stroke-width="0.9" stroke-dasharray="1 3.3"/>
<line x1="275.5" y1="23" x2="275.5" y2="115.3" stroke="#cdcdcd" stroke-width="0.9" stroke-dasharray="1 3.3"/>
<line x1="281.5" y1="23" x2="281.5" y2="115.3" stroke="#cdcdcd" stroke-width="0.9" stroke-dasharray="1 3.3"/>
<line x1="286.5" y1="23" x2="286.5" y2="115.3" stroke="#cdcdcd" stroke-width="0.9" stroke-dasharray="1 3.3"/>
<line x1="292.5" y1="23" x2="292.5" y2="115.3" stroke="#cdcdcd" stroke-width="0.9" stroke-dasharray="1 3.3"/>
<line x1="297.5" y1="23" x2="297.5" y2="115.3" stroke="#cdcdcd" stroke-width="0.9" stroke-dasharray="1 3.3"/>
<line x1="302.5" y1="23" x2="302.5" y2="115.3" stroke="#cdcdcd" stroke-width="0.9" stroke-dasharray="1 3.3"/>
<line x1="308.5" y1="23" x2="308.5" y2="115.3" stroke="#cdcdcd" stroke-width="0.9" stroke-dasharray="1 3.3"/>
<line x1="313.5" y1="23" x2="313.5" y2="115.3" stroke="#cdcdcd" stroke-width="0.9" stroke-dasharray="1 3.3"/>
<line x1="319.5" y1="23" x2="319.5" y2="115.3" stroke="#cdcdcd" stroke-width="0.9" stroke-dasharray="1 3.3"/>
<line x1="324.5" y1="23" x2="324.5" y2="115.3" stroke="#cdcdcd" stroke-width="0.9" stroke-dasharray="1 3.3"/>
<line x1="330.5" y1="23" x2="330.5" y2="115.3" stroke="#cdcdcd" stroke-width="0.9" stroke-dasharray="1 3.3"/>
<line x1="232.5" y1="23" x2="232.5" y2="115.3" stroke="#cdcdcd" stroke-width="0.9" stroke-dasharray="1 3.3"/>
<line x1="227.5" y1="23" x2="227.5" y2="115.3" stroke="#cdcdcd" stroke-width="0.9" stroke-dasharray="1 3.3"/>
<line x1="224.2" y1="40.1" x2="332.7" y2="40.1" stroke="#e2e2e2" stroke-width="0.9" />
<line x1="224.2" y1="59.2" x2="332.7" y2="59.2" stroke="#e2e2e2" stroke-width="0.9" />
<line x1="224.2" y1="78.3" x2="332.7" y2="78.3" stroke="#e2e2e2" stroke-width="0.9" />
<line x1="224.2" y1="97.4" x2="332.7" y2="97.4" stroke="#e2e2e2" stroke-width="0.9" />
<line x1="237.9" y1="21.2" x2="237.9" y2="116.3" stroke="#e2e2e2" stroke-width="0.9" />
<line x1="265" y1="21.2" x2="265" y2="116.3" stroke="#e2e2e2" stroke-width="0.9" />
<line x1="292.1" y1="21.2" x2="292.1" y2="116.3" stroke="#e2e2e2" stroke-width="0.9" />
<line x1="319.2" y1="21.2" x2="319.2" y2="116.3" stroke="#e2e2e2" stroke-width="0.9" />
<line x1="224.2" y1="40.1" x2="226" y2="40.1" stroke="#333333" stroke-width="0.8" />
<line x1="332.7" y1="40.1" x2="330.9" y2="40.1" stroke="#333333" stroke-width="0.8" />
<line x1="224.2" y1="59.2" x2="226" y2="59.2" stroke="#333333" stroke-width="0.8" />
<line x1="332.7" y1="59.2" x2="330.9" y2="59.2" stroke="#333333" stroke-width="0.8" />
<line x1="224.2" y1="78.3" x2="226" y2="78.3" stroke="#333333" stroke-width="0.8" />
<line x1="332.7" y1="78.3" x2="330.9" y2="78.3" stroke="#333333" stroke-width="0.8" />
<line x1="224.2" y1="97.4" x2="226" y2="97.4" stroke="#333333" stroke-width="0.8" />
<line x1="332.7" y1="97.4" x2="330.9" y2="97.4" stroke="#333333" stroke-width="0.8" />
<line x1="237.9" y1="116.3" x2="237.9" y2="114.5" stroke="#333333" stroke-width="0.8" />
<line x1="237.9" y1="21.2" x2="237.9" y2="23" stroke="#333333" stroke-width="0.8" />
<line x1="265" y1="116.3" x2="265" y2="114.5" stroke="#333333" stroke-width="0.8" />
<line x1="265" y1="21.2" x2="265" y2="23" stroke="#333333" stroke-width="0.8" />
<line x1="292.1" y1="116.3" x2="292.1" y2="114.5" stroke="#333333" stroke-width="0.8" />
<line x1="292.1" y1="21.2" x2="292.1" y2="23" stroke="#333333" stroke-width="0.8" />
<line x1="319.2" y1="116.3" x2="319.2" y2="114.5" stroke="#333333" stroke-width="0.8" />
<line x1="319.2" y1="21.2" x2="319.2" y2="23" stroke="#333333" stroke-width="0.8" />
<rect x="224.2" y="21.2" width="108.5" height="95.1" fill="none" stroke="#333333" stroke-width="1"/>
<text x="221" y="42.7" font-size="9.6" text-anchor="end" fill="#262626" font-weight="normal" >0.9</text>
<text x="221" y="60.3" font-size="9.6" text-anchor="end" fill="#262626" font-weight="normal" >0.8</text>
<text x="221" y="77.55" font-size="9.6" text-anchor="end" fill="#262626" font-weight="normal" >0.7</text>
<text x="221" y="94.4" font-size="9.6" text-anchor="end" fill="#262626" font-weight="normal" >0.6</text>
<text x="221" y="119.4" font-size="9.6" text-anchor="end" fill="#262626" font-weight="normal" >0.5</text>
<line x1="237.9" y1="25.3" x2="237.9" y2="24.4" stroke="#262626" stroke-width="0.85" stroke-dasharray="9.4 5.8"/>
<line x1="237.9" y1="72.8" x2="237.9" y2="53.5" stroke="#262626" stroke-width="0.85" stroke-dasharray="9.4 5.8"/>
<line x1="234.55" y1="24.4" x2="241.25" y2="24.4" stroke="#262626" stroke-width="0.9" />
<line x1="234.55" y1="72.8" x2="241.25" y2="72.8" stroke="#262626" stroke-width="0.9" />
<rect x="231.2" y="25.3" width="13.4" height="28.2" fill="none" stroke="#262626" stroke-width="0.9"/>
<line x1="231.2" y1="30.2" x2="244.6" y2="30.2" stroke="#262626" stroke-width="0.9" />
<line x1="265" y1="23" x2="265" y2="21.6" stroke="#ff2020" stroke-width="0.85" stroke-dasharray="9.4 5.8"/>
<line x1="265" y1="70.5" x2="265" y2="51.2" stroke="#ff2020" stroke-width="0.85" stroke-dasharray="9.4 5.8"/>
<line x1="261.65" y1="21.6" x2="268.35" y2="21.6" stroke="#ff2020" stroke-width="0.9" />
<line x1="261.65" y1="70.5" x2="268.35" y2="70.5" stroke="#ff2020" stroke-width="0.9" />
<rect x="258.3" y="23" width="13.4" height="28.2" fill="none" stroke="#ff2020" stroke-width="0.9"/>
<line x1="258.3" y1="27.8" x2="271.7" y2="27.8" stroke="#ff2020" stroke-width="0.9" />
<line x1="292.1" y1="23.5" x2="292.1" y2="22.4" stroke="#20a020" stroke-width="0.85" stroke-dasharray="9.4 5.8"/>
<line x1="292.1" y1="76.5" x2="292.1" y2="60.4" stroke="#20a020" stroke-width="0.85" stroke-dasharray="9.4 5.8"/>
<line x1="288.75" y1="22.4" x2="295.45" y2="22.4" stroke="#20a020" stroke-width="0.9" />
<line x1="288.75" y1="76.5" x2="295.45" y2="76.5" stroke="#20a020" stroke-width="0.9" />
<rect x="285.4" y="23.5" width="13.4" height="36.9" fill="none" stroke="#20a020" stroke-width="0.9"/>
<line x1="285.4" y1="35" x2="298.8" y2="35" stroke="#20a020" stroke-width="0.9" />
<line x1="319.2" y1="29.7" x2="319.2" y2="23.1" stroke="#1a1aff" stroke-width="0.85" stroke-dasharray="9.4 5.8"/>
<line x1="319.2" y1="114.4" x2="319.2" y2="80.1" stroke="#1a1aff" stroke-width="0.85" stroke-dasharray="9.4 5.8"/>
<line x1="315.85" y1="23.1" x2="322.55" y2="23.1" stroke="#1a1aff" stroke-width="0.9" />
<line x1="315.85" y1="114.4" x2="322.55" y2="114.4" stroke="#1a1aff" stroke-width="0.9" />
<rect x="312.5" y="29.7" width="13.4" height="50.4" fill="none" stroke="#1a1aff" stroke-width="0.9"/>
<line x1="312.5" y1="40.3" x2="325.9" y2="40.3" stroke="#1a1aff" stroke-width="0.9" />
<text x="0" y="0" font-size="9.4" text-anchor="end" fill="#262626" transform="translate(234.3,116.3) rotate(-31)" dy="6.77">Area</text>
<text x="0" y="0" font-size="9.4" text-anchor="end" fill="#262626" transform="translate(262.7,117.8) rotate(-31)" dy="6.77">Length</text>
<text x="0" y="0" font-size="9.4" text-anchor="end" fill="#262626" transform="translate(290.6,118.1) rotate(-31)" dy="6.77">Width</text>
<text x="0" y="0" font-size="9.4" text-anchor="end" fill="#262626" transform="translate(318.6,116.3) rotate(-31)" dy="6.77">Circularity</text>
<text x="221.5" y="9.8" font-size="13.5" text-anchor="start" fill="#111" font-weight="normal" >b</text>
<line x1="578.5" y1="36.5" x2="682.5" y2="36.5" stroke="#cdcdcd" stroke-width="0.9" stroke-dasharray="1 2.5"/>
<line x1="578.5" y1="44.5" x2="682.5" y2="44.5" stroke="#cdcdcd" stroke-width="0.9" stroke-dasharray="1 2.5"/>
<line x1="578.5" y1="52.5" x2="682.5" y2="52.5" stroke="#cdcdcd" stroke-width="0.9" stroke-dasharray="1 2.5"/>
<line x1="578.5" y1="61.5" x2="682.5" y2="61.5" stroke="#cdcdcd" stroke-width="0.9" stroke-dasharray="1 2.5"/>
<line x1="578.5" y1="69.5" x2="682.5" y2="69.5" stroke="#cdcdcd" stroke-width="0.9" stroke-dasharray="1 2.5"/>
<line x1="578.5" y1="77.5" x2="682.5" y2="77.5" stroke="#cdcdcd" stroke-width="0.9" stroke-dasharray="1 2.5"/>
<line x1="578.5" y1="85.5" x2="682.5" y2="85.5" stroke="#cdcdcd" stroke-width="0.9" stroke-dasharray="1 2.5"/>
<line x1="578.5" y1="93.5" x2="682.5" y2="93.5" stroke="#cdcdcd" stroke-width="0.9" stroke-dasharray="1 2.5"/>
<line x1="578.5" y1="101.5" x2="682.5" y2="101.5" stroke="#cdcdcd" stroke-width="0.9" stroke-dasharray="1 2.5"/>
<line x1="578.5" y1="109.5" x2="682.5" y2="109.5" stroke="#cdcdcd" stroke-width="0.9" stroke-dasharray="1 2.5"/>
<line x1="578.5" y1="28.5" x2="682.5" y2="28.5" stroke="#cdcdcd" stroke-width="0.9" stroke-dasharray="1 2.5"/>
<line x1="590.5" y1="23" x2="590.5" y2="115.3" stroke="#cdcdcd" stroke-width="0.9" stroke-dasharray="1 3.3"/>
<line x1="596.5" y1="23" x2="596.5" y2="115.3" stroke="#cdcdcd" stroke-width="0.9" stroke-dasharray="1 3.3"/>
<line x1="601.5" y1="23" x2="601.5" y2="115.3" stroke="#cdcdcd" stroke-width="0.9" stroke-dasharray="1 3.3"/>
<line x1="606.5" y1="23" x2="606.5" y2="115.3" stroke="#cdcdcd" stroke-width="0.9" stroke-dasharray="1 3.3"/>
<line x1="612.5" y1="23" x2="612.5" y2="115.3" stroke="#cdcdcd" stroke-width="0.9" stroke-dasharray="1 3.3"/>
<line x1="617.5" y1="23" x2="617.5" y2="115.3" stroke="#cdcdcd" stroke-width="0.9" stroke-dasharray="1 3.3"/>
<line x1="622.5" y1="23" x2="622.5" y2="115.3" stroke="#cdcdcd" stroke-width="0.9" stroke-dasharray="1 3.3"/>
<line x1="628.5" y1="23" x2="628.5" y2="115.3" stroke="#cdcdcd" stroke-width="0.9" stroke-dasharray="1 3.3"/>
<line x1="633.5" y1="23" x2="633.5" y2="115.3" stroke="#cdcdcd" stroke-width="0.9" stroke-dasharray="1 3.3"/>
<line x1="638.5" y1="23" x2="638.5" y2="115.3" stroke="#cdcdcd" stroke-width="0.9" stroke-dasharray="1 3.3"/>
<line x1="644.5" y1="23" x2="644.5" y2="115.3" stroke="#cdcdcd" stroke-width="0.9" stroke-dasharray="1 3.3"/>
<line x1="649.5" y1="23" x2="649.5" y2="115.3" stroke="#cdcdcd" stroke-width="0.9" stroke-dasharray="1 3.3"/>
<line x1="654.5" y1="23" x2="654.5" y2="115.3" stroke="#cdcdcd" stroke-width="0.9" stroke-dasharray="1 3.3"/>
<line x1="660.5" y1="23" x2="660.5" y2="115.3" stroke="#cdcdcd" stroke-width="0.9" stroke-dasharray="1 3.3"/>
<line x1="665.5" y1="23" x2="665.5" y2="115.3" stroke="#cdcdcd" stroke-width="0.9" stroke-dasharray="1 3.3"/>
<line x1="670.5" y1="23" x2="670.5" y2="115.3" stroke="#cdcdcd" stroke-width="0.9" stroke-dasharray="1 3.3"/>
<line x1="676.5" y1="23" x2="676.5" y2="115.3" stroke="#cdcdcd" stroke-width="0.9" stroke-dasharray="1 3.3"/>
<line x1="681.5" y1="23" x2="681.5" y2="115.3" stroke="#cdcdcd" stroke-width="0.9" stroke-dasharray="1 3.3"/>
<line x1="585.5" y1="23" x2="585.5" y2="115.3" stroke="#cdcdcd" stroke-width="0.9" stroke-dasharray="1 3.3"/>
<line x1="580.5" y1="23" x2="580.5" y2="115.3" stroke="#cdcdcd" stroke-width="0.9" stroke-dasharray="1 3.3"/>
<line x1="577.2" y1="36.9" x2="683.5" y2="36.9" stroke="#e2e2e2" stroke-width="0.9" />
<line x1="577.2" y1="77.1" x2="683.5" y2="77.1" stroke="#e2e2e2" stroke-width="0.9" />
<line x1="590.9" y1="21.2" x2="590.9" y2="116.3" stroke="#e2e2e2" stroke-width="0.9" />
<line x1="617.5" y1="21.2" x2="617.5" y2="116.3" stroke="#e2e2e2" stroke-width="0.9" />
<line x1="643.9" y1="21.2" x2="643.9" y2="116.3" stroke="#e2e2e2" stroke-width="0.9" />
<line x1="670.7" y1="21.2" x2="670.7" y2="116.3" stroke="#e2e2e2" stroke-width="0.9" />
<line x1="577.2" y1="36.9" x2="579" y2="36.9" stroke="#333333" stroke-width="0.8" />
<line x1="683.5" y1="36.9" x2="681.7" y2="36.9" stroke="#333333" stroke-width="0.8" />
<line x1="577.2" y1="77.1" x2="579" y2="77.1" stroke="#333333" stroke-width="0.8" />
<line x1="683.5" y1="77.1" x2="681.7" y2="77.1" stroke="#333333" stroke-width="0.8" />
<line x1="590.9" y1="116.3" x2="590.9" y2="114.5" stroke="#333333" stroke-width="0.8" />
<line x1="590.9" y1="21.2" x2="590.9" y2="23" stroke="#333333" stroke-width="0.8" />
<line x1="617.5" y1="116.3" x2="617.5" y2="114.5" stroke="#333333" stroke-width="0.8" />
<line x1="617.5" y1="21.2" x2="617.5" y2="23" stroke="#333333" stroke-width="0.8" />
<line x1="643.9" y1="116.3" x2="643.9" y2="114.5" stroke="#333333" stroke-width="0.8" />
<line x1="643.9" y1="21.2" x2="643.9" y2="23" stroke="#333333" stroke-width="0.8" />
<line x1="670.7" y1="116.3" x2="670.7" y2="114.5" stroke="#333333" stroke-width="0.8" />
<line x1="670.7" y1="21.2" x2="670.7" y2="23" stroke="#333333" stroke-width="0.8" />
<rect x="577.2" y="21.2" width="106.3" height="95.1" fill="none" stroke="#333333" stroke-width="1"/>
<text x="574" y="40.3" font-size="9.6" text-anchor="end" fill="#262626" font-weight="normal" >1</text>
<text x="574" y="76.2" font-size="9.6" text-anchor="end" fill="#262626" font-weight="normal" >0.5</text>
<text x="574" y="111.6" font-size="9.6" text-anchor="end" fill="#262626" font-weight="normal" >0</text>
<line x1="590.9" y1="70.3" x2="590.9" y2="54.4" stroke="#262626" stroke-width="0.85" stroke-dasharray="9.4 5.8"/>
<line x1="590.9" y1="101.3" x2="590.9" y2="99.6" stroke="#262626" stroke-width="0.85" stroke-dasharray="9.4 5.8"/>
<line x1="587.6" y1="54.4" x2="594.2" y2="54.4" stroke="#262626" stroke-width="0.9" />
<line x1="587.6" y1="101.3" x2="594.2" y2="101.3" stroke="#262626" stroke-width="0.9" />
<rect x="584.3" y="70.3" width="13.2" height="29.3" fill="none" stroke="#262626" stroke-width="0.9"/>
<line x1="584.3" y1="92.4" x2="597.5" y2="92.4" stroke="#262626" stroke-width="0.9" />
<line x1="617.5" y1="73.7" x2="617.5" y2="57.8" stroke="#ff2020" stroke-width="0.85" stroke-dasharray="9.4 5.8"/>
<line x1="617.5" y1="108.2" x2="617.5" y2="106.1" stroke="#ff2020" stroke-width="0.85" stroke-dasharray="9.4 5.8"/>
<line x1="614.2" y1="57.8" x2="620.8" y2="57.8" stroke="#ff2020" stroke-width="0.9" />
<line x1="614.2" y1="108.2" x2="620.8" y2="108.2" stroke="#ff2020" stroke-width="0.9" />
<rect x="610.9" y="73.7" width="13.2" height="32.4" fill="none" stroke="#ff2020" stroke-width="0.9"/>
<line x1="610.9" y1="96.5" x2="624.1" y2="96.5" stroke="#ff2020" stroke-width="0.9" />
<line x1="643.9" y1="65.2" x2="643.9" y2="54.1" stroke="#20a020" stroke-width="0.85" stroke-dasharray="9.4 5.8"/>
<line x1="643.9" y1="103.3" x2="643.9" y2="101.2" stroke="#20a020" stroke-width="0.85" stroke-dasharray="9.4 5.8"/>
<line x1="640.6" y1="54.1" x2="647.2" y2="54.1" stroke="#20a020" stroke-width="0.9" />
<line x1="640.6" y1="103.3" x2="647.2" y2="103.3" stroke="#20a020" stroke-width="0.9" />
<rect x="637.3" y="65.2" width="13.2" height="36" fill="none" stroke="#20a020" stroke-width="0.9"/>
<line x1="637.3" y1="87.4" x2="650.5" y2="87.4" stroke="#20a020" stroke-width="0.9" />
<line x1="670.7" y1="55.6" x2="670.7" y2="34.1" stroke="#1a1aff" stroke-width="0.85" stroke-dasharray="9.4 5.8"/>
<line x1="670.7" y1="103.4" x2="670.7" y2="95" stroke="#1a1aff" stroke-width="0.85" stroke-dasharray="9.4 5.8"/>
<line x1="667.4" y1="34.1" x2="674" y2="34.1" stroke="#1a1aff" stroke-width="0.9" />
<line x1="667.4" y1="103.4" x2="674" y2="103.4" stroke="#1a1aff" stroke-width="0.9" />
<rect x="664.1" y="55.6" width="13.2" height="39.4" fill="none" stroke="#1a1aff" stroke-width="0.9"/>
<line x1="664.1" y1="82.4" x2="677.3" y2="82.4" stroke="#1a1aff" stroke-width="0.9" />
<text x="0" y="0" font-size="9.4" text-anchor="end" fill="#262626" transform="translate(587.3,116.3) rotate(-31)" dy="6.77">Area</text>
<text x="0" y="0" font-size="9.4" text-anchor="end" fill="#262626" transform="translate(615.3,117.8) rotate(-31)" dy="6.77">Length</text>
<text x="0" y="0" font-size="9.4" text-anchor="end" fill="#262626" transform="translate(642.5,118.1) rotate(-31)" dy="6.77">Width</text>
<text x="0" y="0" font-size="9.4" text-anchor="end" fill="#262626" transform="translate(670.1,116.3) rotate(-31)" dy="6.77">Circularity</text>
<text x="571.5" y="9.8" font-size="13.5" text-anchor="start" fill="#111" font-weight="normal" >d</text>
<line x1="233.5" y1="183.5" x2="331.2" y2="183.5" stroke="#cdcdcd" stroke-width="0.9" stroke-dasharray="1 2.5"/>
<line x1="233.5" y1="187.5" x2="331.2" y2="187.5" stroke="#cdcdcd" stroke-width="0.9" stroke-dasharray="1 2.5"/>
<line x1="233.5" y1="191.5" x2="331.2" y2="191.5" stroke="#cdcdcd" stroke-width="0.9" stroke-dasharray="1 2.5"/>
<line x1="233.5" y1="195.5" x2="331.2" y2="195.5" stroke="#cdcdcd" stroke-width="0.9" stroke-dasharray="1 2.5"/>
<line x1="233.5" y1="199.5" x2="331.2" y2="199.5" stroke="#cdcdcd" stroke-width="0.9" stroke-dasharray="1 2.5"/>
<line x1="233.5" y1="203.5" x2="331.2" y2="203.5" stroke="#cdcdcd" stroke-width="0.9" stroke-dasharray="1 2.5"/>
<line x1="233.5" y1="206.5" x2="331.2" y2="206.5" stroke="#cdcdcd" stroke-width="0.9" stroke-dasharray="1 2.5"/>
<line x1="233.5" y1="210.5" x2="331.2" y2="210.5" stroke="#cdcdcd" stroke-width="0.9" stroke-dasharray="1 2.5"/>
<line x1="233.5" y1="214.5" x2="331.2" y2="214.5" stroke="#cdcdcd" stroke-width="0.9" stroke-dasharray="1 2.5"/>
<line x1="233.5" y1="218.5" x2="331.2" y2="218.5" stroke="#cdcdcd" stroke-width="0.9" stroke-dasharray="1 2.5"/>
<line x1="233.5" y1="222.5" x2="331.2" y2="222.5" stroke="#cdcdcd" stroke-width="0.9" stroke-dasharray="1 2.5"/>
<line x1="233.5" y1="226.5" x2="331.2" y2="226.5" stroke="#cdcdcd" stroke-width="0.9" stroke-dasharray="1 2.5"/>
<line x1="233.5" y1="230.5" x2="331.2" y2="230.5" stroke="#cdcdcd" stroke-width="0.9" stroke-dasharray="1 2.5"/>
<line x1="233.5" y1="233.5" x2="331.2" y2="233.5" stroke="#cdcdcd" stroke-width="0.9" stroke-dasharray="1 2.5"/>
<line x1="233.5" y1="237.5" x2="331.2" y2="237.5" stroke="#cdcdcd" stroke-width="0.9" stroke-dasharray="1 2.5"/>
<line x1="233.5" y1="241.5" x2="331.2" y2="241.5" stroke="#cdcdcd" stroke-width="0.9" stroke-dasharray="1 2.5"/>
<line x1="233.5" y1="245.5" x2="331.2" y2="245.5" stroke="#cdcdcd" stroke-width="0.9" stroke-dasharray="1 2.5"/>
<line x1="233.5" y1="249.5" x2="331.2" y2="249.5" stroke="#cdcdcd" stroke-width="0.9" stroke-dasharray="1 2.5"/>
<line x1="233.5" y1="253.5" x2="331.2" y2="253.5" stroke="#cdcdcd" stroke-width="0.9" stroke-dasharray="1 2.5"/>
<line x1="233.5" y1="257.5" x2="331.2" y2="257.5" stroke="#cdcdcd" stroke-width="0.9" stroke-dasharray="1 2.5"/>
<line x1="233.5" y1="179.5" x2="331.2" y2="179.5" stroke="#cdcdcd" stroke-width="0.9" stroke-dasharray="1 2.5"/>
<line x1="233.5" y1="176.5" x2="331.2" y2="176.5" stroke="#cdcdcd" stroke-width="0.9" stroke-dasharray="1 2.5"/>
<line x1="233.5" y1="172.5" x2="331.2" y2="172.5" stroke="#cdcdcd" stroke-width="0.9" stroke-dasharray="1 2.5"/>
<line x1="233.5" y1="168.5" x2="331.2" y2="168.5" stroke="#cdcdcd" stroke-width="0.9" stroke-dasharray="1 2.5"/>
<line x1="248.5" y1="166" x2="248.5" y2="259.2" stroke="#cdcdcd" stroke-width="0.9" stroke-dasharray="1 3.3"/>
<line x1="255.5" y1="166" x2="255.5" y2="259.2" stroke="#cdcdcd" stroke-width="0.9" stroke-dasharray="1 3.3"/>
<line x1="262.5" y1="166" x2="262.5" y2="259.2" stroke="#cdcdcd" stroke-width="0.9" stroke-dasharray="1 3.3"/>
<line x1="268.5" y1="166" x2="268.5" y2="259.2" stroke="#cdcdcd" stroke-width="0.9" stroke-dasharray="1 3.3"/>
<line x1="275.5" y1="166" x2="275.5" y2="259.2" stroke="#cdcdcd" stroke-width="0.9" stroke-dasharray="1 3.3"/>
<line x1="282.5" y1="166" x2="282.5" y2="259.2" stroke="#cdcdcd" stroke-width="0.9" stroke-dasharray="1 3.3"/>
<line x1="288.5" y1="166" x2="288.5" y2="259.2" stroke="#cdcdcd" stroke-width="0.9" stroke-dasharray="1 3.3"/>
<line x1="295.5" y1="166" x2="295.5" y2="259.2" stroke="#cdcdcd" stroke-width="0.9" stroke-dasharray="1 3.3"/>
<line x1="302.5" y1="166" x2="302.5" y2="259.2" stroke="#cdcdcd" stroke-width="0.9" stroke-dasharray="1 3.3"/>
<line x1="308.5" y1="166" x2="308.5" y2="259.2" stroke="#cdcdcd" stroke-width="0.9" stroke-dasharray="1 3.3"/>
<line x1="315.5" y1="166" x2="315.5" y2="259.2" stroke="#cdcdcd" stroke-width="0.9" stroke-dasharray="1 3.3"/>
<line x1="322.5" y1="166" x2="322.5" y2="259.2" stroke="#cdcdcd" stroke-width="0.9" stroke-dasharray="1 3.3"/>
<line x1="328.5" y1="166" x2="328.5" y2="259.2" stroke="#cdcdcd" stroke-width="0.9" stroke-dasharray="1 3.3"/>
<line x1="242.5" y1="166" x2="242.5" y2="259.2" stroke="#cdcdcd" stroke-width="0.9" stroke-dasharray="1 3.3"/>
<line x1="235.5" y1="166" x2="235.5" y2="259.2" stroke="#cdcdcd" stroke-width="0.9" stroke-dasharray="1 3.3"/>
<line x1="232" y1="183.8" x2="332.2" y2="183.8" stroke="#e2e2e2" stroke-width="0.9" />
<line x1="232" y1="202.6" x2="332.2" y2="202.6" stroke="#e2e2e2" stroke-width="0.9" />
<line x1="232" y1="221.9" x2="332.2" y2="221.9" stroke="#e2e2e2" stroke-width="0.9" />
<line x1="232" y1="241.4" x2="332.2" y2="241.4" stroke="#e2e2e2" stroke-width="0.9" />
<line x1="248.8" y1="164.5" x2="248.8" y2="260.2" stroke="#e2e2e2" stroke-width="0.9" />
<line x1="282.1" y1="164.5" x2="282.1" y2="260.2" stroke="#e2e2e2" stroke-width="0.9" />
<line x1="315.7" y1="164.5" x2="315.7" y2="260.2" stroke="#e2e2e2" stroke-width="0.9" />
<line x1="232" y1="183.8" x2="233.8" y2="183.8" stroke="#333333" stroke-width="0.8" />
<line x1="332.2" y1="183.8" x2="330.4" y2="183.8" stroke="#333333" stroke-width="0.8" />
<line x1="232" y1="202.6" x2="233.8" y2="202.6" stroke="#333333" stroke-width="0.8" />
<line x1="332.2" y1="202.6" x2="330.4" y2="202.6" stroke="#333333" stroke-width="0.8" />
<line x1="232" y1="221.9" x2="233.8" y2="221.9" stroke="#333333" stroke-width="0.8" />
<line x1="332.2" y1="221.9" x2="330.4" y2="221.9" stroke="#333333" stroke-width="0.8" />
<line x1="232" y1="241.4" x2="233.8" y2="241.4" stroke="#333333" stroke-width="0.8" />
<line x1="332.2" y1="241.4" x2="330.4" y2="241.4" stroke="#333333" stroke-width="0.8" />
<line x1="248.8" y1="260.2" x2="248.8" y2="258.4" stroke="#333333" stroke-width="0.8" />
<line x1="248.8" y1="164.5" x2="248.8" y2="166.3" stroke="#333333" stroke-width="0.8" />
<line x1="282.1" y1="260.2" x2="282.1" y2="258.4" stroke="#333333" stroke-width="0.8" />
<line x1="282.1" y1="164.5" x2="282.1" y2="166.3" stroke="#333333" stroke-width="0.8" />
<line x1="315.7" y1="260.2" x2="315.7" y2="258.4" stroke="#333333" stroke-width="0.8" />
<line x1="315.7" y1="164.5" x2="315.7" y2="166.3" stroke="#333333" stroke-width="0.8" />
<rect x="232" y="164.5" width="100.2" height="95.7" fill="none" stroke="#333333" stroke-width="1"/>
<text x="228.8" y="186.4" font-size="9.6" text-anchor="end" fill="#262626" font-weight="normal" >0.4</text>
<text x="228.8" y="203.9" font-size="9.6" text-anchor="end" fill="#262626" font-weight="normal" >0.3</text>
<text x="228.8" y="220.7" font-size="9.6" text-anchor="end" fill="#262626" font-weight="normal" >0.2</text>
<text x="228.8" y="237.7" font-size="9.6" text-anchor="end" fill="#262626" font-weight="normal" >0.1</text>
<text x="228.8" y="254.5" font-size="9.6" text-anchor="end" fill="#262626" font-weight="normal" >0</text>
<line x1="248.8" y1="212.6" x2="248.8" y2="199.6" stroke="#262626" stroke-width="0.85" />
<line x1="248.8" y1="250.2" x2="248.8" y2="248.2" stroke="#262626" stroke-width="0.85" />
<line x1="245.15" y1="199.6" x2="252.45" y2="199.6" stroke="#262626" stroke-width="0.9" />
<line x1="245.15" y1="250.2" x2="252.45" y2="250.2" stroke="#262626" stroke-width="0.9" />
<rect x="241.5" y="212.6" width="14.6" height="35.6" fill="none" stroke="#262626" stroke-width="0.9"/>
<line x1="241.5" y1="235.2" x2="256.1" y2="235.2" stroke="#262626" stroke-width="0.9" />
<line x1="282.1" y1="220.6" x2="282.1" y2="210.1" stroke="#ff2020" stroke-width="0.85" />
<line x1="282.1" y1="248.4" x2="282.1" y2="247.2" stroke="#ff2020" stroke-width="0.85" />
<line x1="278.25" y1="210.1" x2="285.95" y2="210.1" stroke="#ff2020" stroke-width="0.9" />
<line x1="278.25" y1="248.4" x2="285.95" y2="248.4" stroke="#ff2020" stroke-width="0.9" />
<rect x="274.4" y="220.6" width="15.4" height="26.6" fill="none" stroke="#ff2020" stroke-width="0.9"/>
<line x1="274.4" y1="237.9" x2="289.8" y2="237.9" stroke="#ff2020" stroke-width="0.9" />
<line x1="315.7" y1="231.4" x2="315.7" y2="213.9" stroke="#20a020" stroke-width="0.85" />
<line x1="315.7" y1="254" x2="315.7" y2="252.7" stroke="#20a020" stroke-width="0.85" />
<line x1="311.95" y1="213.9" x2="319.45" y2="213.9" stroke="#20a020" stroke-width="0.9" />
<line x1="311.95" y1="254" x2="319.45" y2="254" stroke="#20a020" stroke-width="0.9" />
<rect x="308.2" y="231.4" width="15" height="21.3" fill="none" stroke="#20a020" stroke-width="0.9"/>
<line x1="308.2" y1="250.2" x2="323.2" y2="250.2" stroke="#20a020" stroke-width="0.9" />
<circle cx="315.7" cy="184.3" r="0.7" fill="#20a020"/>
<text x="0" y="0" font-size="9.7" text-anchor="end" fill="#262626" transform="translate(246.3,260.6) rotate(-15)" dy="6.98">Centroids</text>
<text x="0" y="0" font-size="9.7" text-anchor="end" fill="#262626" transform="translate(280.6,260.6) rotate(-15)" dy="6.98">Junctions</text>
<text x="0" y="0" font-size="9.7" text-anchor="end" fill="#262626" transform="translate(314.8,260) rotate(-15)" dy="6.98">Outlines</text>
<text x="221" y="153.4" font-size="13.5" text-anchor="start" fill="#111" font-weight="normal" >f</text>
<line x1="586.5" y1="188.5" x2="681.7" y2="188.5" stroke="#cdcdcd" stroke-width="0.9" stroke-dasharray="1 2.5"/>
<line x1="586.5" y1="193.5" x2="681.7" y2="193.5" stroke="#cdcdcd" stroke-width="0.9" stroke-dasharray="1 2.5"/>
<line x1="586.5" y1="197.5" x2="681.7" y2="197.5" stroke="#cdcdcd" stroke-width="0.9" stroke-dasharray="1 2.5"/>
<line x1="586.5" y1="202.5" x2="681.7" y2="202.5" stroke="#cdcdcd" stroke-width="0.9" stroke-dasharray="1 2.5"/>
<line x1="586.5" y1="207.5" x2="681.7" y2="207.5" stroke="#cdcdcd" stroke-width="0.9" stroke-dasharray="1 2.5"/>
<line x1="586.5" y1="212.5" x2="681.7" y2="212.5" stroke="#cdcdcd" stroke-width="0.9" stroke-dasharray="1 2.5"/>
<line x1="586.5" y1="216.5" x2="681.7" y2="216.5" stroke="#cdcdcd" stroke-width="0.9" stroke-dasharray="1 2.5"/>
<line x1="586.5" y1="221.5" x2="681.7" y2="221.5" stroke="#cdcdcd" stroke-width="0.9" stroke-dasharray="1 2.5"/>
<line x1="586.5" y1="226.5" x2="681.7" y2="226.5" stroke="#cdcdcd" stroke-width="0.9" stroke-dasharray="1 2.5"/>
<line x1="586.5" y1="231.5" x2="681.7" y2="231.5" stroke="#cdcdcd" stroke-width="0.9" stroke-dasharray="1 2.5"/>
<line x1="586.5" y1="236.5" x2="681.7" y2="236.5" stroke="#cdcdcd" stroke-width="0.9" stroke-dasharray="1 2.5"/>
<line x1="586.5" y1="240.5" x2="681.7" y2="240.5" stroke="#cdcdcd" stroke-width="0.9" stroke-dasharray="1 2.5"/>
<line x1="586.5" y1="245.5" x2="681.7" y2="245.5" stroke="#cdcdcd" stroke-width="0.9" stroke-dasharray="1 2.5"/>
<line x1="586.5" y1="250.5" x2="681.7" y2="250.5" stroke="#cdcdcd" stroke-width="0.9" stroke-dasharray="1 2.5"/>
<line x1="586.5" y1="255.5" x2="681.7" y2="255.5" stroke="#cdcdcd" stroke-width="0.9" stroke-dasharray="1 2.5"/>
<line x1="586.5" y1="183.5" x2="681.7" y2="183.5" stroke="#cdcdcd" stroke-width="0.9" stroke-dasharray="1 2.5"/>
<line x1="586.5" y1="178.5" x2="681.7" y2="178.5" stroke="#cdcdcd" stroke-width="0.9" stroke-dasharray="1 2.5"/>
<line x1="586.5" y1="173.5" x2="681.7" y2="173.5" stroke="#cdcdcd" stroke-width="0.9" stroke-dasharray="1 2.5"/>
<line x1="586.5" y1="169.5" x2="681.7" y2="169.5" stroke="#cdcdcd" stroke-width="0.9" stroke-dasharray="1 2.5"/>
<line x1="602.5" y1="166" x2="602.5" y2="259.2" stroke="#cdcdcd" stroke-width="0.9" stroke-dasharray="1 3.3"/>
<line x1="608.5" y1="166" x2="608.5" y2="259.2" stroke="#cdcdcd" stroke-width="0.9" stroke-dasharray="1 3.3"/>
<line x1="615.5" y1="166" x2="615.5" y2="259.2" stroke="#cdcdcd" stroke-width="0.9" stroke-dasharray="1 3.3"/>
<line x1="621.5" y1="166" x2="621.5" y2="259.2" stroke="#cdcdcd" stroke-width="0.9" stroke-dasharray="1 3.3"/>
<line x1="628.5" y1="166" x2="628.5" y2="259.2" stroke="#cdcdcd" stroke-width="0.9" stroke-dasharray="1 3.3"/>
<line x1="634.5" y1="166" x2="634.5" y2="259.2" stroke="#cdcdcd" stroke-width="0.9" stroke-dasharray="1 3.3"/>
<line x1="641.5" y1="166" x2="641.5" y2="259.2" stroke="#cdcdcd" stroke-width="0.9" stroke-dasharray="1 3.3"/>
<line x1="647.5" y1="166" x2="647.5" y2="259.2" stroke="#cdcdcd" stroke-width="0.9" stroke-dasharray="1 3.3"/>
<line x1="654.5" y1="166" x2="654.5" y2="259.2" stroke="#cdcdcd" stroke-width="0.9" stroke-dasharray="1 3.3"/>
<line x1="660.5" y1="166" x2="660.5" y2="259.2" stroke="#cdcdcd" stroke-width="0.9" stroke-dasharray="1 3.3"/>
<line x1="667.5" y1="166" x2="667.5" y2="259.2" stroke="#cdcdcd" stroke-width="0.9" stroke-dasharray="1 3.3"/>
<line x1="673.5" y1="166" x2="673.5" y2="259.2" stroke="#cdcdcd" stroke-width="0.9" stroke-dasharray="1 3.3"/>
<line x1="680.5" y1="166" x2="680.5" y2="259.2" stroke="#cdcdcd" stroke-width="0.9" stroke-dasharray="1 3.3"/>
<line x1="595.5" y1="166" x2="595.5" y2="259.2" stroke="#cdcdcd" stroke-width="0.9" stroke-dasharray="1 3.3"/>
<line x1="589.5" y1="166" x2="589.5" y2="259.2" stroke="#cdcdcd" stroke-width="0.9" stroke-dasharray="1 3.3"/>
<line x1="585.5" y1="188.3" x2="682.7" y2="188.3" stroke="#e2e2e2" stroke-width="0.9" />
<line x1="585.5" y1="212.1" x2="682.7" y2="212.1" stroke="#e2e2e2" stroke-width="0.9" />
<line x1="585.5" y1="236.4" x2="682.7" y2="236.4" stroke="#e2e2e2" stroke-width="0.9" />
<line x1="602.1" y1="164.5" x2="602.1" y2="260.2" stroke="#e2e2e2" stroke-width="0.9" />
<line x1="634.6" y1="164.5" x2="634.6" y2="260.2" stroke="#e2e2e2" stroke-width="0.9" />
<line x1="667.2" y1="164.5" x2="667.2" y2="260.2" stroke="#e2e2e2" stroke-width="0.9" />
<line x1="585.5" y1="188.3" x2="587.3" y2="188.3" stroke="#333333" stroke-width="0.8" />
<line x1="682.7" y1="188.3" x2="680.9" y2="188.3" stroke="#333333" stroke-width="0.8" />
<line x1="585.5" y1="212.1" x2="587.3" y2="212.1" stroke="#333333" stroke-width="0.8" />
<line x1="682.7" y1="212.1" x2="680.9" y2="212.1" stroke="#333333" stroke-width="0.8" />
<line x1="585.5" y1="236.4" x2="587.3" y2="236.4" stroke="#333333" stroke-width="0.8" />
<line x1="682.7" y1="236.4" x2="680.9" y2="236.4" stroke="#333333" stroke-width="0.8" />
<line x1="602.1" y1="260.2" x2="602.1" y2="258.4" stroke="#333333" stroke-width="0.8" />
<line x1="602.1" y1="164.5" x2="602.1" y2="166.3" stroke="#333333" stroke-width="0.8" />
<line x1="634.6" y1="260.2" x2="634.6" y2="258.4" stroke="#333333" stroke-width="0.8" />
<line x1="634.6" y1="164.5" x2="634.6" y2="166.3" stroke="#333333" stroke-width="0.8" />
<line x1="667.2" y1="260.2" x2="667.2" y2="258.4" stroke="#333333" stroke-width="0.8" />
<line x1="667.2" y1="164.5" x2="667.2" y2="166.3" stroke="#333333" stroke-width="0.8" />
<rect x="585.5" y="164.5" width="97.2" height="95.7" fill="none" stroke="#333333" stroke-width="1"/>
<text x="582.3" y="169.3" font-size="9.6" text-anchor="end" fill="#262626" font-weight="normal" >0.4</text>
<text x="582.3" y="190.9" font-size="9.6" text-anchor="end" fill="#262626" font-weight="normal" >0.3</text>
<text x="582.3" y="212.7" font-size="9.6" text-anchor="end" fill="#262626" font-weight="normal" >0.2</text>
<text x="582.3" y="233.4" font-size="9.6" text-anchor="end" fill="#262626" font-weight="normal" >0.1</text>
<text x="582.3" y="254" font-size="9.6" text-anchor="end" fill="#262626" font-weight="normal" >0</text>
<line x1="602.1" y1="227.1" x2="602.1" y2="219.4" stroke="#262626" stroke-width="0.85" />
<line x1="602.1" y1="254" x2="602.1" y2="251" stroke="#262626" stroke-width="0.85" />
<line x1="598.35" y1="219.4" x2="605.85" y2="219.4" stroke="#262626" stroke-width="0.9" />
<line x1="598.35" y1="254" x2="605.85" y2="254" stroke="#262626" stroke-width="0.9" />
<rect x="594.6" y="227.1" width="15" height="23.9" fill="none" stroke="#262626" stroke-width="0.9"/>
<line x1="594.6" y1="240.9" x2="609.6" y2="240.9" stroke="#262626" stroke-width="0.9" />
<line x1="634.6" y1="232.2" x2="634.6" y2="225.1" stroke="#ff2020" stroke-width="0.85" />
<line x1="634.6" y1="250.7" x2="634.6" y2="249.4" stroke="#ff2020" stroke-width="0.85" />
<line x1="630.85" y1="225.1" x2="638.35" y2="225.1" stroke="#ff2020" stroke-width="0.9" />
<line x1="630.85" y1="250.7" x2="638.35" y2="250.7" stroke="#ff2020" stroke-width="0.9" />
<rect x="627.1" y="232.2" width="15" height="17.2" fill="none" stroke="#ff2020" stroke-width="0.9"/>
<line x1="627.1" y1="243.2" x2="642.1" y2="243.2" stroke="#ff2020" stroke-width="0.9" />
<line x1="667.2" y1="223.1" x2="667.2" y2="202.6" stroke="#20a020" stroke-width="0.85" />
<line x1="667.2" y1="256.5" x2="667.2" y2="255.2" stroke="#20a020" stroke-width="0.85" />
<line x1="663.45" y1="202.6" x2="670.95" y2="202.6" stroke="#20a020" stroke-width="0.9" />
<line x1="663.45" y1="256.5" x2="670.95" y2="256.5" stroke="#20a020" stroke-width="0.9" />
<rect x="659.7" y="223.1" width="15" height="32.1" fill="none" stroke="#20a020" stroke-width="0.9"/>
<line x1="659.7" y1="251.4" x2="674.7" y2="251.4" stroke="#20a020" stroke-width="0.9" />
<text x="0" y="0" font-size="9.7" text-anchor="end" fill="#262626" transform="translate(600.9,260.6) rotate(-15)" dy="6.98">Centroids</text>
<text x="0" y="0" font-size="9.7" text-anchor="end" fill="#262626" transform="translate(633.5,260.6) rotate(-15)" dy="6.98">Junctions</text>
<text x="0" y="0" font-size="9.7" text-anchor="end" fill="#262626" transform="translate(666.7,260) rotate(-15)" dy="6.98">Outlines</text>
<text x="571.5" y="153.4" font-size="13.5" text-anchor="start" fill="#111" font-weight="normal" >h</text>
<line x1="228.5" y1="338.5" x2="330.7" y2="338.5" stroke="#cdcdcd" stroke-width="0.9" stroke-dasharray="1 2.5"/>
<line x1="228.5" y1="344.5" x2="330.7" y2="344.5" stroke="#cdcdcd" stroke-width="0.9" stroke-dasharray="1 2.5"/>
<line x1="228.5" y1="351.5" x2="330.7" y2="351.5" stroke="#cdcdcd" stroke-width="0.9" stroke-dasharray="1 2.5"/>
<line x1="228.5" y1="357.5" x2="330.7" y2="357.5" stroke="#cdcdcd" stroke-width="0.9" stroke-dasharray="1 2.5"/>
<line x1="228.5" y1="363.5" x2="330.7" y2="363.5" stroke="#cdcdcd" stroke-width="0.9" stroke-dasharray="1 2.5"/>
<line x1="228.5" y1="369.5" x2="330.7" y2="369.5" stroke="#cdcdcd" stroke-width="0.9" stroke-dasharray="1 2.5"/>
<line x1="228.5" y1="376.5" x2="330.7" y2="376.5" stroke="#cdcdcd" stroke-width="0.9" stroke-dasharray="1 2.5"/>
<line x1="228.5" y1="382.5" x2="330.7" y2="382.5" stroke="#cdcdcd" stroke-width="0.9" stroke-dasharray="1 2.5"/>
<line x1="228.5" y1="388.5" x2="330.7" y2="388.5" stroke="#cdcdcd" stroke-width="0.9" stroke-dasharray="1 2.5"/>
<line x1="228.5" y1="394.5" x2="330.7" y2="394.5" stroke="#cdcdcd" stroke-width="0.9" stroke-dasharray="1 2.5"/>
<line x1="228.5" y1="332.5" x2="330.7" y2="332.5" stroke="#cdcdcd" stroke-width="0.9" stroke-dasharray="1 2.5"/>
<line x1="228.5" y1="326.5" x2="330.7" y2="326.5" stroke="#cdcdcd" stroke-width="0.9" stroke-dasharray="1 2.5"/>
<line x1="228.5" y1="319.5" x2="330.7" y2="319.5" stroke="#cdcdcd" stroke-width="0.9" stroke-dasharray="1 2.5"/>
<line x1="228.5" y1="313.5" x2="330.7" y2="313.5" stroke="#cdcdcd" stroke-width="0.9" stroke-dasharray="1 2.5"/>
<line x1="228.5" y1="307.5" x2="330.7" y2="307.5" stroke="#cdcdcd" stroke-width="0.9" stroke-dasharray="1 2.5"/>
<line x1="253.5" y1="308" x2="253.5" y2="400.6" stroke="#cdcdcd" stroke-width="0.9" stroke-dasharray="1 3.3"/>
<line x1="263.5" y1="308" x2="263.5" y2="400.6" stroke="#cdcdcd" stroke-width="0.9" stroke-dasharray="1 3.3"/>
<line x1="274.5" y1="308" x2="274.5" y2="400.6" stroke="#cdcdcd" stroke-width="0.9" stroke-dasharray="1 3.3"/>
<line x1="284.5" y1="308" x2="284.5" y2="400.6" stroke="#cdcdcd" stroke-width="0.9" stroke-dasharray="1 3.3"/>
<line x1="295.5" y1="308" x2="295.5" y2="400.6" stroke="#cdcdcd" stroke-width="0.9" stroke-dasharray="1 3.3"/>
<line x1="305.5" y1="308" x2="305.5" y2="400.6" stroke="#cdcdcd" stroke-width="0.9" stroke-dasharray="1 3.3"/>
<line x1="315.5" y1="308" x2="315.5" y2="400.6" stroke="#cdcdcd" stroke-width="0.9" stroke-dasharray="1 3.3"/>
<line x1="326.5" y1="308" x2="326.5" y2="400.6" stroke="#cdcdcd" stroke-width="0.9" stroke-dasharray="1 3.3"/>
<line x1="242.5" y1="308" x2="242.5" y2="400.6" stroke="#cdcdcd" stroke-width="0.9" stroke-dasharray="1 3.3"/>
<line x1="232.5" y1="308" x2="232.5" y2="400.6" stroke="#cdcdcd" stroke-width="0.9" stroke-dasharray="1 3.3"/>
<line x1="227.2" y1="338.6" x2="331.7" y2="338.6" stroke="#e2e2e2" stroke-width="0.9" />
<line x1="227.2" y1="369.9" x2="331.7" y2="369.9" stroke="#e2e2e2" stroke-width="0.9" />
<line x1="253.4" y1="306.4" x2="253.4" y2="401.6" stroke="#e2e2e2" stroke-width="0.9" />
<line x1="305.5" y1="306.4" x2="305.5" y2="401.6" stroke="#e2e2e2" stroke-width="0.9" />
<line x1="227.2" y1="338.6" x2="229" y2="338.6" stroke="#333333" stroke-width="0.8" />
<line x1="331.7" y1="338.6" x2="329.9" y2="338.6" stroke="#333333" stroke-width="0.8" />
<line x1="227.2" y1="369.9" x2="229" y2="369.9" stroke="#333333" stroke-width="0.8" />
<line x1="331.7" y1="369.9" x2="329.9" y2="369.9" stroke="#333333" stroke-width="0.8" />
<line x1="253.4" y1="401.6" x2="253.4" y2="399.8" stroke="#333333" stroke-width="0.8" />
<line x1="253.4" y1="306.4" x2="253.4" y2="308.2" stroke="#333333" stroke-width="0.8" />
<line x1="305.5" y1="401.6" x2="305.5" y2="399.8" stroke="#333333" stroke-width="0.8" />
<line x1="305.5" y1="306.4" x2="305.5" y2="308.2" stroke="#333333" stroke-width="0.8" />
<rect x="227.2" y="306.4" width="104.5" height="95.2" fill="none" stroke="#333333" stroke-width="1"/>
<text x="224" y="311.6" font-size="9.6" text-anchor="end" fill="#262626" font-weight="normal" >60</text>
<text x="224" y="340.9" font-size="9.6" text-anchor="end" fill="#262626" font-weight="normal" >40</text>
<text x="224" y="369.1" font-size="9.6" text-anchor="end" fill="#262626" font-weight="normal" >20</text>
<text x="224" y="397" font-size="9.6" text-anchor="end" fill="#262626" font-weight="normal" >0</text>
<line x1="253.4" y1="351.4" x2="253.4" y2="317.2" stroke="#262626" stroke-width="0.85" stroke-dasharray="9.4 5.8"/>
<line x1="253.4" y1="401.6" x2="253.4" y2="396.9" stroke="#262626" stroke-width="0.85" stroke-dasharray="9.4 5.8"/>
<line x1="249.45" y1="317.2" x2="257.35" y2="317.2" stroke="#262626" stroke-width="0.9" />
<line x1="249.45" y1="401.6" x2="257.35" y2="401.6" stroke="#262626" stroke-width="0.9" />
<rect x="245.5" y="351.4" width="15.8" height="45.5" fill="none" stroke="#262626" stroke-width="0.9"/>
<line x1="245.5" y1="388.4" x2="261.3" y2="388.4" stroke="#262626" stroke-width="0.9" />
<line x1="305.5" y1="378.4" x2="305.5" y2="366.2" stroke="#ff2020" stroke-width="0.85" stroke-dasharray="9.4 5.8"/>
<line x1="305.5" y1="401.2" x2="305.5" y2="400.4" stroke="#ff2020" stroke-width="0.85" stroke-dasharray="9.4 5.8"/>
<line x1="301.55" y1="366.2" x2="309.45" y2="366.2" stroke="#ff2020" stroke-width="0.9" />
<line x1="301.55" y1="401.2" x2="309.45" y2="401.2" stroke="#ff2020" stroke-width="0.9" />
<rect x="297.6" y="378.4" width="15.8" height="22" fill="none" stroke="#ff2020" stroke-width="0.9"/>
<line x1="297.6" y1="394.1" x2="313.4" y2="394.1" stroke="#ff2020" stroke-width="0.9" />
<text x="251" y="412.6" font-size="9.6" text-anchor="middle" fill="#262626" font-weight="normal" >Junctions</text>
<text x="305.3" y="412.6" font-size="9.6" text-anchor="middle" fill="#262626" font-weight="normal" >cells</text>
<text x="220.5" y="294.6" font-size="13.5" text-anchor="start" fill="#111" font-weight="normal" >j</text>
<line x1="588.5" y1="354.5" x2="679.4" y2="354.5" stroke="#cdcdcd" stroke-width="0.9" stroke-dasharray="1 2.5"/>
<line x1="588.5" y1="363.5" x2="679.4" y2="363.5" stroke="#cdcdcd" stroke-width="0.9" stroke-dasharray="1 2.5"/>
<line x1="588.5" y1="373.5" x2="679.4" y2="373.5" stroke="#cdcdcd" stroke-width="0.9" stroke-dasharray="1 2.5"/>
<line x1="588.5" y1="382.5" x2="679.4" y2="382.5" stroke="#cdcdcd" stroke-width="0.9" stroke-dasharray="1 2.5"/>
<line x1="588.5" y1="392.5" x2="679.4" y2="392.5" stroke="#cdcdcd" stroke-width="0.9" stroke-dasharray="1 2.5"/>
<line x1="588.5" y1="345.5" x2="679.4" y2="345.5" stroke="#cdcdcd" stroke-width="0.9" stroke-dasharray="1 2.5"/>
<line x1="588.5" y1="335.5" x2="679.4" y2="335.5" stroke="#cdcdcd" stroke-width="0.9" stroke-dasharray="1 2.5"/>
<line x1="588.5" y1="326.5" x2="679.4" y2="326.5" stroke="#cdcdcd" stroke-width="0.9" stroke-dasharray="1 2.5"/>
<line x1="588.5" y1="316.5" x2="679.4" y2="316.5" stroke="#cdcdcd" stroke-width="0.9" stroke-dasharray="1 2.5"/>
<line x1="633.5" y1="308" x2="633.5" y2="401.1" stroke="#cdcdcd" stroke-width="0.9" stroke-dasharray="1 3.3"/>
<line x1="643.5" y1="308" x2="643.5" y2="401.1" stroke="#cdcdcd" stroke-width="0.9" stroke-dasharray="1 3.3"/>
<line x1="652.5" y1="308" x2="652.5" y2="401.1" stroke="#cdcdcd" stroke-width="0.9" stroke-dasharray="1 3.3"/>
<line x1="661.5" y1="308" x2="661.5" y2="401.1" stroke="#cdcdcd" stroke-width="0.9" stroke-dasharray="1 3.3"/>
<line x1="670.5" y1="308" x2="670.5" y2="401.1" stroke="#cdcdcd" stroke-width="0.9" stroke-dasharray="1 3.3"/>
<line x1="624.5" y1="308" x2="624.5" y2="401.1" stroke="#cdcdcd" stroke-width="0.9" stroke-dasharray="1 3.3"/>
<line x1="615.5" y1="308" x2="615.5" y2="401.1" stroke="#cdcdcd" stroke-width="0.9" stroke-dasharray="1 3.3"/>
<line x1="605.5" y1="308" x2="605.5" y2="401.1" stroke="#cdcdcd" stroke-width="0.9" stroke-dasharray="1 3.3"/>
<line x1="596.5" y1="308" x2="596.5" y2="401.1" stroke="#cdcdcd" stroke-width="0.9" stroke-dasharray="1 3.3"/>
<line x1="587.4" y1="354.5" x2="680.4" y2="354.5" stroke="#e2e2e2" stroke-width="0.9" />
<line x1="633.7" y1="306.8" x2="633.7" y2="402.1" stroke="#e2e2e2" stroke-width="0.9" />
<line x1="587.4" y1="354.5" x2="589.2" y2="354.5" stroke="#333333" stroke-width="0.8" />
<line x1="680.4" y1="354.5" x2="678.6" y2="354.5" stroke="#333333" stroke-width="0.8" />
<line x1="633.7" y1="402.1" x2="633.7" y2="400.3" stroke="#333333" stroke-width="0.8" />
<line x1="633.7" y1="306.8" x2="633.7" y2="308.6" stroke="#333333" stroke-width="0.8" />
<rect x="587.4" y="306.8" width="93" height="95.3" fill="none" stroke="#333333" stroke-width="1"/>
<text x="584.2" y="311.3" font-size="9.6" text-anchor="end" fill="#262626" font-weight="normal" >10</text>
<text x="584.2" y="358.3" font-size="9.6" text-anchor="end" fill="#262626" font-weight="normal" >5</text>
<text x="584.2" y="404.4" font-size="9.6" text-anchor="end" fill="#262626" font-weight="normal" >0</text>
<line x1="633.7" y1="349.3" x2="633.7" y2="307.5" stroke="#262626" stroke-width="0.85" stroke-dasharray="9.4 5.8"/>
<line x1="633.7" y1="400.6" x2="633.7" y2="399.3" stroke="#262626" stroke-width="0.85" stroke-dasharray="9.4 5.8"/>
<line x1="630.2" y1="307.5" x2="637.2" y2="307.5" stroke="#262626" stroke-width="0.9" />
<line x1="630.2" y1="400.6" x2="637.2" y2="400.6" stroke="#262626" stroke-width="0.9" />
<rect x="626.7" y="349.3" width="14" height="50" fill="none" stroke="#262626" stroke-width="0.9"/>
<line x1="626.7" y1="394.3" x2="640.7" y2="394.3" stroke="#262626" stroke-width="0.9" />
<text x="633.7" y="412.6" font-size="9.6" text-anchor="middle" fill="#262626" font-weight="normal" >Area differences</text>
<text x="576.5" y="294.6" font-size="13.5" text-anchor="start" fill="#111" font-weight="normal" >l</text>
</svg></body></html>
